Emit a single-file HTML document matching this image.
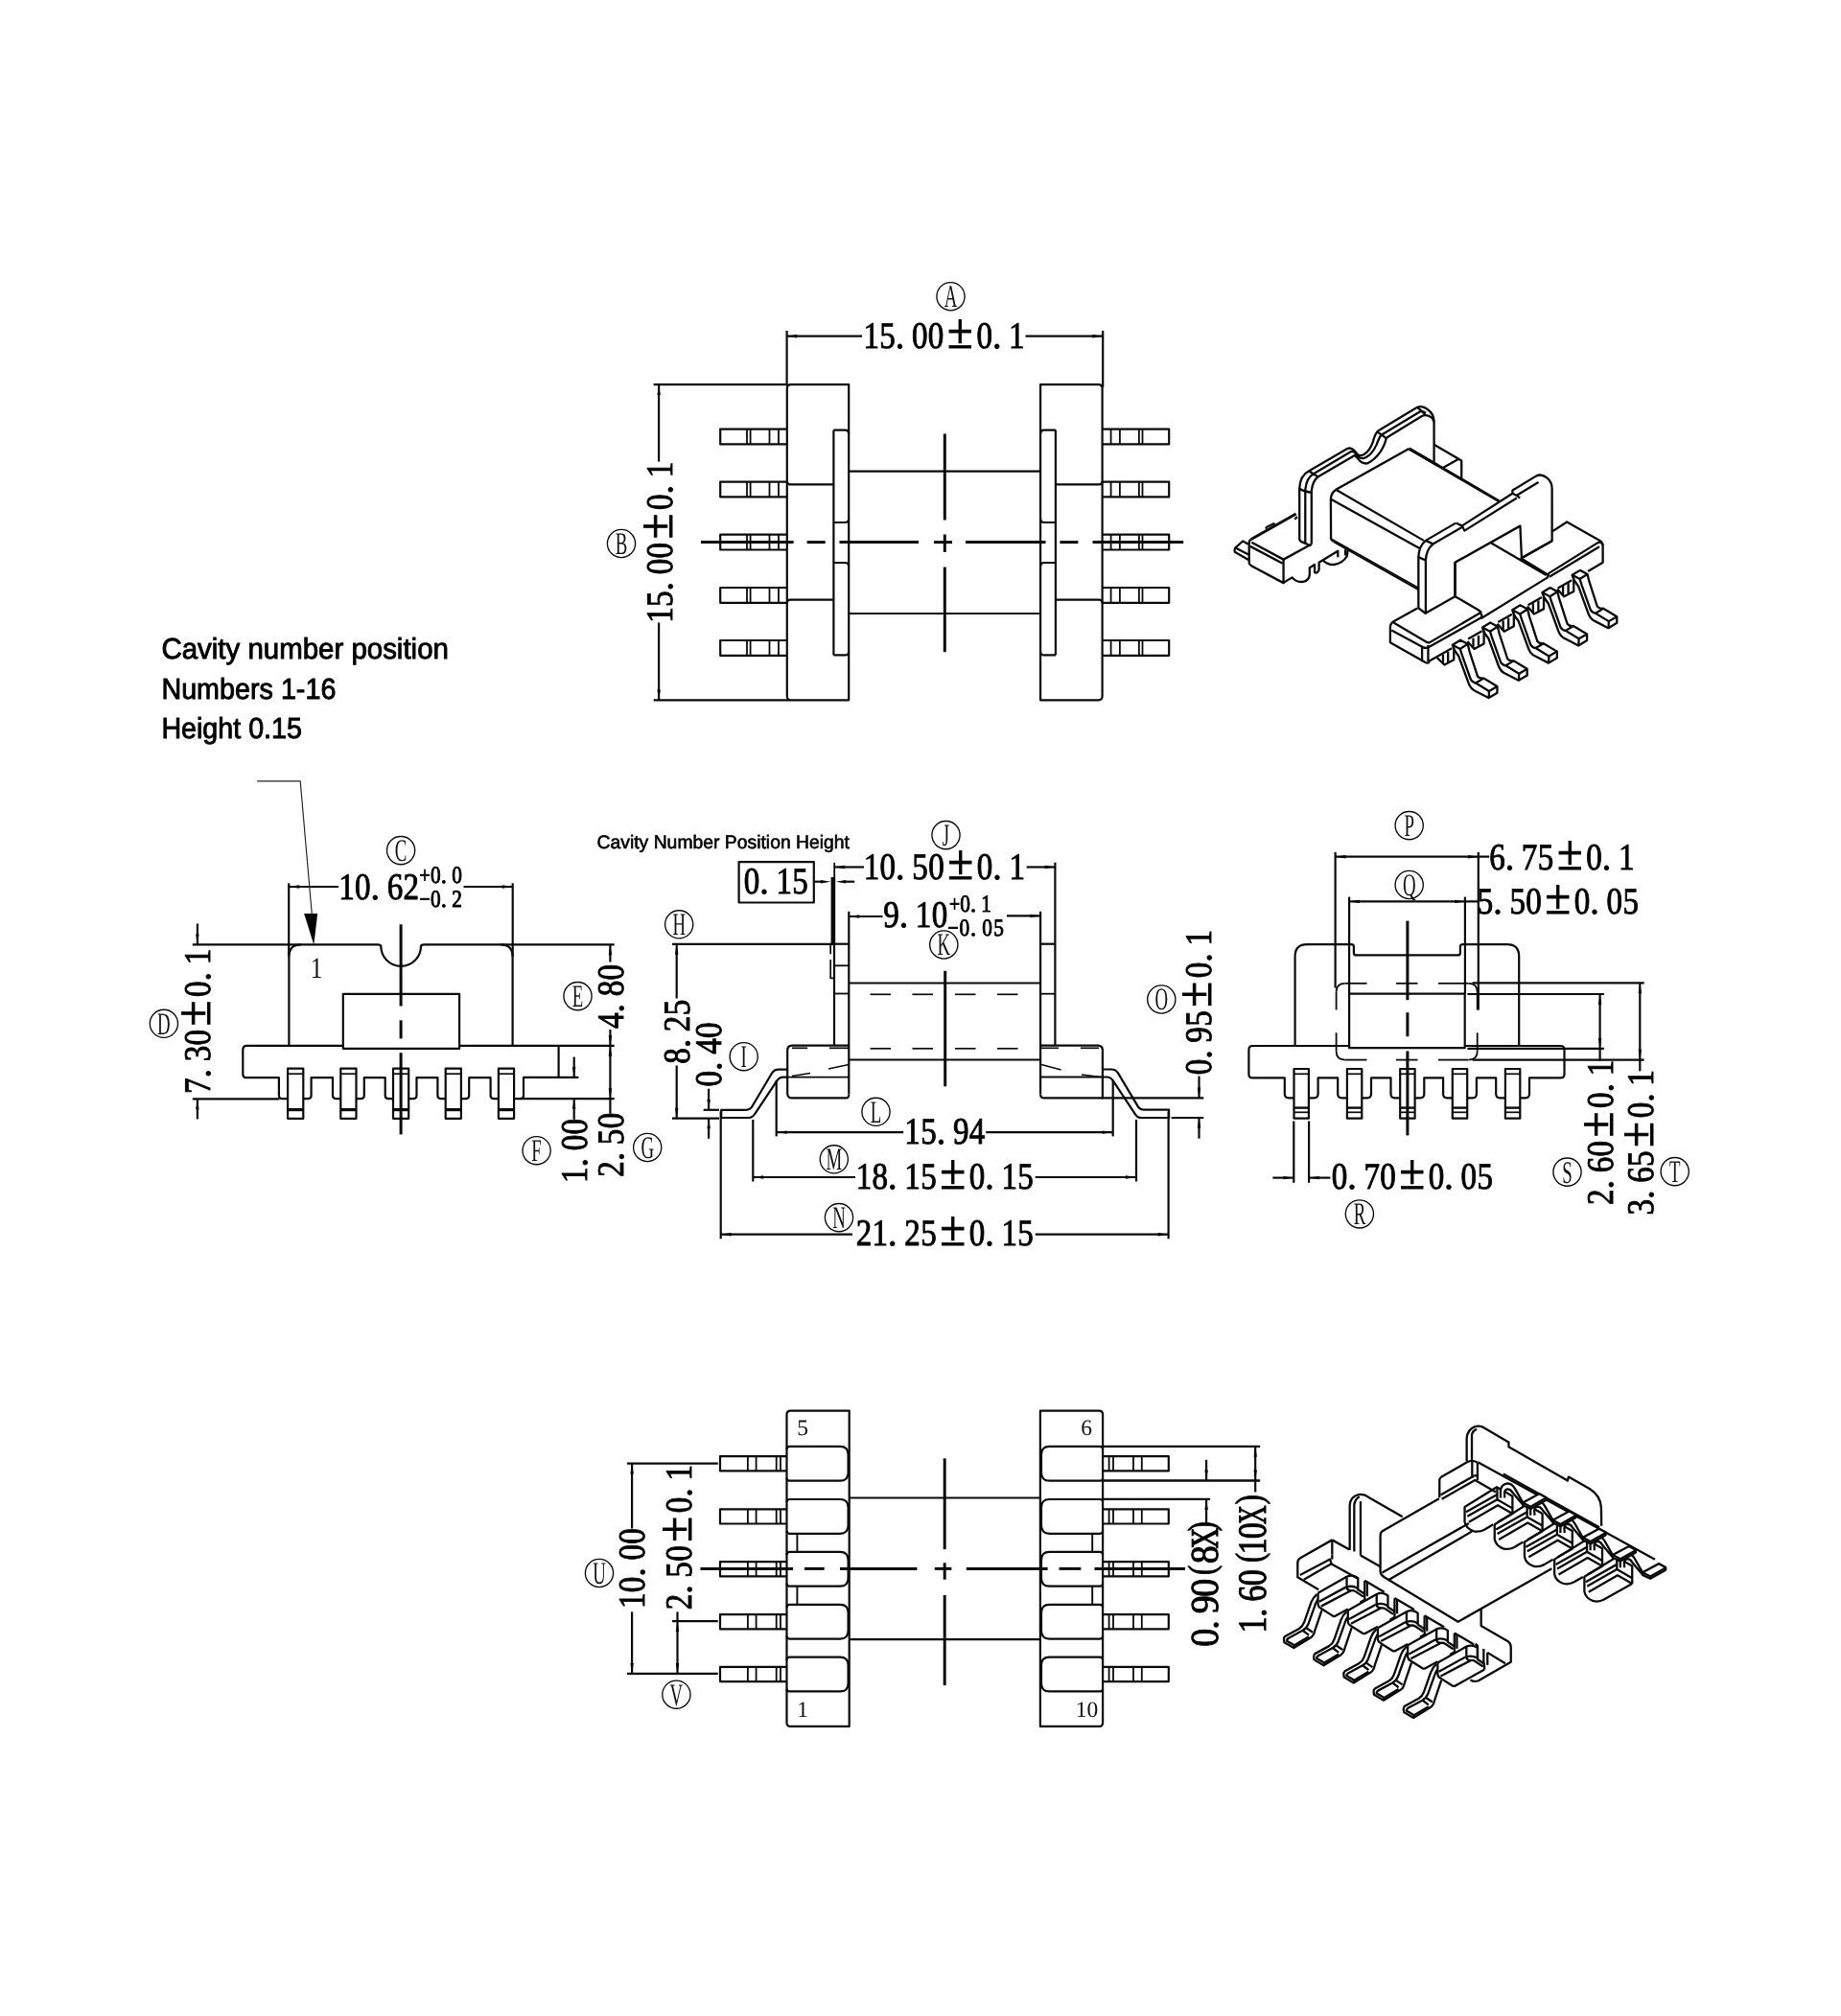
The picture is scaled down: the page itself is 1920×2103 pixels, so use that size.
<!DOCTYPE html>
<html><head><meta charset="utf-8"><title>Bobbin drawing</title>
<style>
html,body{margin:0;padding:0;background:#fff;}
body{width:1920px;height:2103px;overflow:hidden;}
svg{display:block;filter:grayscale(1);}
svg text{text-rendering:geometricPrecision;}
svg path,svg circle,svg rect,svg polyline{fill:none;stroke:#0a0a0a;stroke-linecap:butt;stroke-linejoin:round;}
.s{font-family:"Liberation Serif",serif;fill:#111;stroke:none;}
.d text{font-family:"Liberation Serif",serif;fill:#000;stroke:#000;stroke-width:0.9px;}
.n{font-family:"Liberation Serif",serif;fill:#111;stroke:none;}
.t{font-family:"Liberation Sans",sans-serif;fill:#000;stroke:#000;}
</style></head>
<body>
<svg width="1920" height="2103" viewBox="0 0 1920 2103">
<rect x="0" y="0" width="1920" height="2103" style="fill:#fff;stroke:none"/>
<path d="M885.2 401.2L824.8 401.2Q820.8 401.2 820.8 405.2L820.8 726.3Q820.8 730.3 824.8 730.3L885.2 730.3Z" stroke-width="2.2"/>
<path d="M1085.1 401.2L1145.6 401.2Q1149.6 401.2 1149.6 405.2L1149.6 726.3Q1149.6 730.3 1145.6 730.3L1085.1 730.3Z" stroke-width="2.2"/>
<path d="M820.8 501.9Q820.8 505.4 824.3 505.4L869.4 505.4" stroke-width="2.2"/>
<path d="M1149.6 501.9Q1149.6 505.4 1146.1 505.4L1100.9 505.4" stroke-width="2.2"/>
<path d="M820.8 629.1Q820.8 625.6 824.3 625.6L869.4 625.6" stroke-width="2.2"/>
<path d="M1149.6 629.1Q1149.6 625.6 1146.1 625.6L1100.9 625.6" stroke-width="2.2"/>
<path d="M869.4 448.6L869.4 683.4" stroke-width="2.2"/>
<path d="M1100.9 448.6L1100.9 683.4" stroke-width="2.2"/>
<path d="M869.4 448.6L881.2 448.6Q885.2 448.6 885.2 452.6" stroke-width="2.2"/>
<path d="M1100.9 448.6L1089.1 448.6Q1085.1 448.6 1085.1 452.6" stroke-width="2.2"/>
<path d="M869.4 545L881.2 545Q885.2 545 885.2 541" stroke-width="2.2"/>
<path d="M1100.9 545L1089.1 545Q1085.1 545 1085.1 541" stroke-width="2.2"/>
<path d="M869.4 587L881.2 587Q885.2 587 885.2 591" stroke-width="2.2"/>
<path d="M1100.9 587L1089.1 587Q1085.1 587 1085.1 591" stroke-width="2.2"/>
<path d="M869.4 683.4L881.2 683.4Q885.2 683.4 885.2 679.4" stroke-width="2.2"/>
<path d="M1100.9 683.4L1089.1 683.4Q1085.1 683.4 1085.1 679.4" stroke-width="2.2"/>
<path d="M885.2 491.7L1085.1 491.7" stroke-width="2.2"/>
<path d="M885.2 640L1085.1 640" stroke-width="2.2"/>
<path d="M820.8 447.6L751.2 447.6L751.2 463.4L820.8 463.4" stroke-width="2.2"/>
<path d="M779 447.6L779 463.4" stroke-width="1.8"/>
<path d="M782.6 447.6L782.6 463.4" stroke-width="1.8"/>
<path d="M802.5 447.6L802.5 463.4" stroke-width="1.8"/>
<path d="M812 447.6L812 463.4" stroke-width="1.8"/>
<path d="M1149.6 447.6L1219.2 447.6L1219.2 463.4L1149.6 463.4" stroke-width="2.2"/>
<path d="M1158.6 447.6L1158.6 463.4" stroke-width="1.8"/>
<path d="M1167.9 447.6L1167.9 463.4" stroke-width="1.8"/>
<path d="M1187.9 447.6L1187.9 463.4" stroke-width="1.8"/>
<path d="M1191.5 447.6L1191.5 463.4" stroke-width="1.8"/>
<path d="M820.8 502.6L751.2 502.6L751.2 518.4L820.8 518.4" stroke-width="2.2"/>
<path d="M779 502.6L779 518.4" stroke-width="1.8"/>
<path d="M782.6 502.6L782.6 518.4" stroke-width="1.8"/>
<path d="M802.5 502.6L802.5 518.4" stroke-width="1.8"/>
<path d="M812 502.6L812 518.4" stroke-width="1.8"/>
<path d="M1149.6 502.6L1219.2 502.6L1219.2 518.4L1149.6 518.4" stroke-width="2.2"/>
<path d="M1158.6 502.6L1158.6 518.4" stroke-width="1.8"/>
<path d="M1167.9 502.6L1167.9 518.4" stroke-width="1.8"/>
<path d="M1187.9 502.6L1187.9 518.4" stroke-width="1.8"/>
<path d="M1191.5 502.6L1191.5 518.4" stroke-width="1.8"/>
<path d="M820.8 557.7L751.2 557.7L751.2 573.5L820.8 573.5" stroke-width="2.2"/>
<path d="M779 557.7L779 573.5" stroke-width="1.8"/>
<path d="M782.6 557.7L782.6 573.5" stroke-width="1.8"/>
<path d="M802.5 557.7L802.5 573.5" stroke-width="1.8"/>
<path d="M812 557.7L812 573.5" stroke-width="1.8"/>
<path d="M1149.6 557.7L1219.2 557.7L1219.2 573.5L1149.6 573.5" stroke-width="2.2"/>
<path d="M1158.6 557.7L1158.6 573.5" stroke-width="1.8"/>
<path d="M1167.9 557.7L1167.9 573.5" stroke-width="1.8"/>
<path d="M1187.9 557.7L1187.9 573.5" stroke-width="1.8"/>
<path d="M1191.5 557.7L1191.5 573.5" stroke-width="1.8"/>
<path d="M820.8 613L751.2 613L751.2 628.8L820.8 628.8" stroke-width="2.2"/>
<path d="M779 613L779 628.8" stroke-width="1.8"/>
<path d="M782.6 613L782.6 628.8" stroke-width="1.8"/>
<path d="M802.5 613L802.5 628.8" stroke-width="1.8"/>
<path d="M812 613L812 628.8" stroke-width="1.8"/>
<path d="M1149.6 613L1219.2 613L1219.2 628.8L1149.6 628.8" stroke-width="2.2"/>
<path d="M1158.6 613L1158.6 628.8" stroke-width="1.8"/>
<path d="M1167.9 613L1167.9 628.8" stroke-width="1.8"/>
<path d="M1187.9 613L1187.9 628.8" stroke-width="1.8"/>
<path d="M1191.5 613L1191.5 628.8" stroke-width="1.8"/>
<path d="M820.8 668L751.2 668L751.2 683.8L820.8 683.8" stroke-width="2.2"/>
<path d="M779 668L779 683.8" stroke-width="1.8"/>
<path d="M782.6 668L782.6 683.8" stroke-width="1.8"/>
<path d="M802.5 668L802.5 683.8" stroke-width="1.8"/>
<path d="M812 668L812 683.8" stroke-width="1.8"/>
<path d="M1149.6 668L1219.2 668L1219.2 683.8L1149.6 683.8" stroke-width="2.2"/>
<path d="M1158.6 668L1158.6 683.8" stroke-width="1.8"/>
<path d="M1167.9 668L1167.9 683.8" stroke-width="1.8"/>
<path d="M1187.9 668L1187.9 683.8" stroke-width="1.8"/>
<path d="M1191.5 668L1191.5 683.8" stroke-width="1.8"/>
<path d="M731 565.6L827.6 565.6" stroke-width="3"/>
<path d="M841.6 565.6L860.7 565.6" stroke-width="3"/>
<path d="M875.5 565.6L958 565.6" stroke-width="3"/>
<path d="M974 565.6L993 565.6" stroke-width="3"/>
<path d="M1007 565.6L1090.5 565.6" stroke-width="3"/>
<path d="M1105.4 565.6L1124.4 565.6" stroke-width="3"/>
<path d="M1139.5 565.6L1234.2 565.6" stroke-width="3"/>
<path d="M985.3 452.5L985.3 542.5" stroke-width="3"/>
<path d="M985.3 557.5L985.3 575.9" stroke-width="3"/>
<path d="M985.3 591.5L985.3 680.2" stroke-width="3"/>
<path d="M820.6 345L820.6 401.2" stroke-width="2.2"/>
<path d="M1150.2 345L1150.2 404" stroke-width="2.2"/>
<path d="M820.6 350.7L899 350.7" stroke-width="2.2"/>
<path d="M1069.5 350.7L1150.2 350.7" stroke-width="2.2"/>
<polygon points="820.6,350.7 831.1,349 831.1,352.4" fill="#000" stroke="none"/>
<polygon points="1149.8,350.7 1139.3,349 1139.3,352.4" fill="#000" stroke="none"/>
<g class="d" font-size="38" text-anchor="middle" transform="translate(900.3 363.4) rotate(0)"><text transform="translate(8.43 0) scale(0.87 1.03)">1</text><text transform="translate(25.28 0) scale(0.87 1.03)">5</text><text transform="translate(38.25 0) scale(1.0 1.0)">.</text><text transform="translate(58.98 0) scale(0.87 1.03)">0</text><text transform="translate(75.83 0) scale(0.87 1.03)">0</text><text font-size="49.4" transform="translate(101.1 0) scale(0.98 1.06)">±</text><text transform="translate(126.38 0) scale(0.87 1.03)">0</text><text transform="translate(139.35 0) scale(1.0 1.0)">.</text><text transform="translate(160.08 0) scale(0.87 1.03)">1</text></g>
<circle cx="991.5" cy="309.2" r="14.6" stroke-width="1.35"/>
<text transform="translate(991.5 309.2) rotate(0) scale(0.57 1)" x="0" y="10.9" text-anchor="middle" font-size="33" class="s">A</text>
<path d="M681.7 401.2L821 401.2" stroke-width="2.2"/>
<path d="M681.7 730.3L824 730.3" stroke-width="2.2"/>
<path d="M687.1 401.2L687.1 481.6" stroke-width="2.2"/>
<path d="M687.1 649.5L687.1 730.3" stroke-width="2.2"/>
<polygon points="687.1,401.6 685.4,412.1 688.8,412.1" fill="#000" stroke="none"/>
<polygon points="687.1,729.9 685.4,719.4 688.8,719.4" fill="#000" stroke="none"/>
<g class="d" font-size="38" text-anchor="middle" transform="translate(700.6 650) rotate(-90)"><text transform="translate(8.43 0) scale(0.87 1.03)">1</text><text transform="translate(25.28 0) scale(0.87 1.03)">5</text><text transform="translate(38.25 0) scale(1.0 1.0)">.</text><text transform="translate(58.98 0) scale(0.87 1.03)">0</text><text transform="translate(75.83 0) scale(0.87 1.03)">0</text><text font-size="49.4" transform="translate(101.1 0) scale(0.98 1.06)">±</text><text transform="translate(126.38 0) scale(0.87 1.03)">0</text><text transform="translate(139.35 0) scale(1.0 1.0)">.</text><text transform="translate(160.08 0) scale(0.87 1.03)">1</text></g>
<circle cx="648" cy="567" r="14.6" stroke-width="1.35"/>
<text transform="translate(648 567) rotate(0) scale(0.57 1)" x="0" y="10.9" text-anchor="middle" font-size="33" class="s">B</text>
<g class="t" font-size="30.5" stroke-width="0.9"><text x="168.4" y="686.7" textLength="299.5" lengthAdjust="spacingAndGlyphs">Cavity number position</text><text x="168.4" y="729.1" textLength="182" lengthAdjust="spacingAndGlyphs">Numbers 1-16</text><text x="168.4" y="770.4" textLength="146.5" lengthAdjust="spacingAndGlyphs">Height 0.15</text></g>
<g class="t" font-size="19.5" stroke-width="0.6"><text x="622.5" y="885.2" textLength="263.5" lengthAdjust="spacingAndGlyphs">Cavity Number Position Height</text></g>
<path d="M268.2 814.9L313.2 814.9L325.3 954" stroke-width="1.15" style="stroke:#222"/>
<polygon points="327.3,985.5 317.1,952.9 331.2,952.9" fill="#000" stroke="none"/>
<path d="M301.4 1090.9L301.4 997.8Q301.4 985.3 313.9 985.3L394 985.3Q397 985.3 397.3 987A20.85 20.85 0 0 0 439 987Q439.2 985.3 442.2 985.3L522.1 985.3Q534.6 985.3 534.6 997.8L534.6 1090.9" stroke-width="2.2"/>
<path d="M200.8 985.3L313.9 985.3" stroke-width="2.2"/>
<path d="M522.1 985.3L640.7 985.3" stroke-width="2.2"/>
<path d="M301.2 921.3L301.2 997.8" stroke-width="2.2"/>
<path d="M534.7 921.3L534.7 997.8" stroke-width="2.2"/>
<path d="M357.8 1090.9L257.3 1090.9Q253.3 1090.9 253.3 1094.9L253.3 1120.2Q253.3 1124.2 257.3 1124.2L290.9 1124.2L290.9 1142.4Q290.9 1146.2 294.6 1146.2L300.1 1146.2" stroke-width="2.2"/>
<path d="M479.1 1090.9L640.7 1090.9" stroke-width="2.2"/>
<rect x="357.8" y="1036.8" width="121.3" height="57" rx="0" stroke-width="2.2"/>
<path d="M582.6 1090.9L582.6 1124.2" stroke-width="2.2"/>
<path d="M300.1 1114.7L300.1 1166.8L316.3 1166.8L316.3 1114.7Z" stroke-width="2.2"/>
<path d="M300.1 1120.2L316.3 1120.2" stroke-width="1.7"/>
<path d="M300.1 1157.6L316.3 1157.6" stroke-width="3.2"/>
<path d="M316.3 1146.2L321 1146.2Q324.6 1146.2 324.6 1142.6L324.6 1124.2L347 1124.2L347 1142.6Q347 1146.2 350.6 1146.2L355.3 1146.2" stroke-width="2.2"/>
<path d="M355.3 1114.7L355.3 1166.8L371.5 1166.8L371.5 1114.7Z" stroke-width="2.2"/>
<path d="M355.3 1120.2L371.5 1120.2" stroke-width="1.7"/>
<path d="M355.3 1157.6L371.5 1157.6" stroke-width="3.2"/>
<path d="M371.5 1146.2L376.2 1146.2Q379.8 1146.2 379.8 1142.6L379.8 1124.2L401.7 1124.2L401.7 1142.6Q401.7 1146.2 405.3 1146.2L410 1146.2" stroke-width="2.2"/>
<path d="M410 1114.7L410 1166.8L426.2 1166.8L426.2 1114.7Z" stroke-width="2.2"/>
<path d="M410 1120.2L426.2 1120.2" stroke-width="1.7"/>
<path d="M410 1157.6L426.2 1157.6" stroke-width="3.2"/>
<path d="M426.2 1146.2L430.9 1146.2Q434.5 1146.2 434.5 1142.6L434.5 1124.2L456.4 1124.2L456.4 1142.6Q456.4 1146.2 460 1146.2L464.7 1146.2" stroke-width="2.2"/>
<path d="M464.7 1114.7L464.7 1166.8L480.9 1166.8L480.9 1114.7Z" stroke-width="2.2"/>
<path d="M464.7 1120.2L480.9 1120.2" stroke-width="1.7"/>
<path d="M464.7 1157.6L480.9 1157.6" stroke-width="3.2"/>
<path d="M480.9 1146.2L485.6 1146.2Q489.2 1146.2 489.2 1142.6L489.2 1124.2L511.6 1124.2L511.6 1142.6Q511.6 1146.2 515.2 1146.2L519.9 1146.2" stroke-width="2.2"/>
<path d="M519.9 1114.7L519.9 1166.8L536.1 1166.8L536.1 1114.7Z" stroke-width="2.2"/>
<path d="M519.9 1120.2L536.1 1120.2" stroke-width="1.7"/>
<path d="M519.9 1157.6L536.1 1157.6" stroke-width="3.2"/>
<path d="M536.1 1146.2L542.4 1146.2Q546 1146.2 546 1142.6L546 1123.8L603.4 1123.8" stroke-width="2.2"/>
<path d="M418.1 964.3L418.1 1049.5" stroke-width="3"/>
<path d="M418.1 1064.3L418.1 1083.4" stroke-width="3"/>
<path d="M418.1 1098.2L418.1 1183.4" stroke-width="3"/>
<text class="n" x="330.2" y="1020.2" font-size="31" text-anchor="middle" transform="translate(330.2 0) scale(0.82 1) translate(-330.2 0)">1</text>
<path d="M301.2 925L353 925" stroke-width="2.2"/>
<path d="M483.5 925L534.7 925" stroke-width="2.2"/>
<polygon points="301.6,925 312.1,923.3 312.1,926.7" fill="#000" stroke="none"/>
<polygon points="534.3,925 523.8,923.3 523.8,926.7" fill="#000" stroke="none"/>
<g class="d" font-size="38" text-anchor="middle" transform="translate(353 938.1) rotate(0)"><text transform="translate(8.43 0) scale(0.87 1.03)">1</text><text transform="translate(25.28 0) scale(0.87 1.03)">0</text><text transform="translate(38.25 0) scale(1.0 1.0)">.</text><text transform="translate(58.98 0) scale(0.87 1.03)">6</text><text transform="translate(75.83 0) scale(0.87 1.03)">2</text></g>
<g class="d" font-size="24.5" text-anchor="middle" transform="translate(437.5 920.6) rotate(0)"><text transform="translate(5.6 0) scale(0.8 1.0)">+</text><text transform="translate(16.8 0) scale(0.87 1.03)">0</text><text transform="translate(25.42 0) scale(1.0 1.0)">.</text><text transform="translate(39.2 0) scale(0.87 1.03)">0</text></g>
<g class="d" font-size="24.5" text-anchor="middle" transform="translate(437.5 945.6) rotate(0)"><text transform="translate(5.6 0) scale(0.8 1.0)">−</text><text transform="translate(16.8 0) scale(0.87 1.03)">0</text><text transform="translate(25.42 0) scale(1.0 1.0)">.</text><text transform="translate(39.2 0) scale(0.87 1.03)">2</text></g>
<circle cx="418.1" cy="887.1" r="14.6" stroke-width="1.35"/>
<text transform="translate(418.1 887.1) rotate(0) scale(0.57 1)" x="0" y="10.9" text-anchor="middle" font-size="33" class="s">C</text>
<path d="M205.9 963.5L205.9 985.3" stroke-width="2.2"/>
<polygon points="205.9,984.9 204.2,974.4 207.6,974.4" fill="#000" stroke="none"/>
<path d="M200.8 1146.3L291.2 1146.3" stroke-width="2.2"/>
<path d="M205.9 1146.3L205.9 1167.4" stroke-width="2.2"/>
<polygon points="205.9,1146.7 204.2,1157.2 207.6,1157.2" fill="#000" stroke="none"/>
<g class="d" font-size="38" text-anchor="middle" transform="translate(218.8 1141.2) rotate(-90)"><text transform="translate(8.43 0) scale(0.87 1.03)">7</text><text transform="translate(21.4 0) scale(1.0 1.0)">.</text><text transform="translate(42.12 0) scale(0.87 1.03)">3</text><text transform="translate(58.98 0) scale(0.87 1.03)">0</text><text font-size="49.4" transform="translate(84.25 0) scale(0.98 1.06)">±</text><text transform="translate(109.53 0) scale(0.87 1.03)">0</text><text transform="translate(122.5 0) scale(1.0 1.0)">.</text><text transform="translate(143.23 0) scale(0.87 1.03)">1</text></g>
<circle cx="170.9" cy="1067.8" r="14.6" stroke-width="1.35"/>
<text transform="translate(170.9 1067.8) rotate(0) scale(0.57 1)" x="0" y="10.9" text-anchor="middle" font-size="33" class="s">D</text>
<path d="M542.5 1146.2L640.7 1146.2" stroke-width="2.2"/>
<path d="M636.4 985.3L636.4 1003.5" stroke-width="2.2"/>
<polygon points="636.4,985.7 634.7,996.2 638.1,996.2" fill="#000" stroke="none"/>
<path d="M636.4 1074L636.4 1161.6" stroke-width="2.2"/>
<polygon points="636.4,1090.5 634.7,1080 638.1,1080" fill="#000" stroke="none"/>
<polygon points="636.4,1091.3 634.7,1101.8 638.1,1101.8" fill="#000" stroke="none"/>
<polygon points="636.4,1145.8 634.7,1135.3 638.1,1135.3" fill="#000" stroke="none"/>
<g class="d" font-size="38" text-anchor="middle" transform="translate(650.3 1073.2) rotate(-90)"><text transform="translate(8.43 0) scale(0.87 1.03)">4</text><text transform="translate(21.4 0) scale(1.0 1.0)">.</text><text transform="translate(42.12 0) scale(0.87 1.03)">8</text><text transform="translate(58.98 0) scale(0.87 1.03)">0</text></g>
<g class="d" font-size="38" text-anchor="middle" transform="translate(650.3 1228) rotate(-90)"><text transform="translate(8.43 0) scale(0.87 1.03)">2</text><text transform="translate(21.4 0) scale(1.0 1.0)">.</text><text transform="translate(42.12 0) scale(0.87 1.03)">5</text><text transform="translate(58.98 0) scale(0.87 1.03)">0</text></g>
<circle cx="602.5" cy="1039.1" r="14.6" stroke-width="1.35"/>
<text transform="translate(602.5 1039.1) rotate(0) scale(0.57 1)" x="0" y="10.9" text-anchor="middle" font-size="33" class="s">E</text>
<circle cx="675.2" cy="1197" r="14.6" stroke-width="1.35"/>
<text transform="translate(675.2 1197) rotate(0) scale(0.57 1)" x="0" y="10.9" text-anchor="middle" font-size="33" class="s">G</text>
<path d="M598.7 1102.5L598.7 1123.8" stroke-width="2.2"/>
<polygon points="598.7,1123.4 597,1112.9 600.4,1112.9" fill="#000" stroke="none"/>
<path d="M598.7 1146.2L598.7 1167.7" stroke-width="2.2"/>
<polygon points="598.7,1146.6 597,1157.1 600.4,1157.1" fill="#000" stroke="none"/>
<g class="d" font-size="38" text-anchor="middle" transform="translate(612.1 1234.2) rotate(-90)"><text transform="translate(8.43 0) scale(0.87 1.03)">1</text><text transform="translate(21.4 0) scale(1.0 1.0)">.</text><text transform="translate(42.12 0) scale(0.87 1.03)">0</text><text transform="translate(58.98 0) scale(0.87 1.03)">0</text></g>
<circle cx="559.6" cy="1200.2" r="14.6" stroke-width="1.35"/>
<text transform="translate(559.6 1200.2) rotate(0) scale(0.57 1)" x="0" y="10.9" text-anchor="middle" font-size="33" class="s">F</text>
<path d="M870 984.7L870 1090.6" stroke-width="2.2"/>
<path d="M885.3 950.8L885.3 1141.4" stroke-width="2.2"/>
<path d="M870 984.7L885.3 984.7" stroke-width="2.2"/>
<path d="M870 1007.3L885.3 1007.3" stroke-width="1.8"/>
<path d="M870 1036.5L885.3 1036.5" stroke-width="1.8"/>
<path d="M1100.4 899.8L1100.4 1090.6" stroke-width="2.2"/>
<path d="M1085.1 950.8L1085.1 1141.4" stroke-width="2.2"/>
<path d="M1085.1 984.7L1100.4 984.7" stroke-width="2.2"/>
<path d="M1085.1 1036.7L1100.4 1036.7" stroke-width="1.8"/>
<path d="M885.3 1025.5L1085.1 1025.5" stroke-width="2.2"/>
<path d="M885.3 1105.5L1085.1 1105.5" stroke-width="2.2"/>
<path d="M907.5 1037.3L929 1037.3" stroke-width="1.7"/>
<path d="M951.5 1037.3L973 1037.3" stroke-width="1.7"/>
<path d="M996 1037.3L1017.5 1037.3" stroke-width="1.7"/>
<path d="M1040 1037.3L1061.5 1037.3" stroke-width="1.7"/>
<path d="M907.5 1093.8L929 1093.8" stroke-width="1.7"/>
<path d="M951.5 1093.8L973 1093.8" stroke-width="1.7"/>
<path d="M996 1093.8L1017.5 1093.8" stroke-width="1.7"/>
<path d="M1040 1093.8L1061.5 1093.8" stroke-width="1.7"/>
<path d="M985.7 1012.8L985.7 1133.3" stroke-width="3"/>
<path d="M885.3 1090.6L826.2 1090.6Q821.2 1090.6 821.2 1095.6L821.2 1140.4Q821.2 1145.4 826.2 1145.4L882.3 1145.4Q885.3 1145.4 885.3 1141.4" stroke-width="2.2"/>
<path d="M1085.1 1090.6L1144.9 1090.6Q1149.9 1090.6 1149.9 1095.6L1149.9 1144.9L1149.9 1145.4L1089.1 1145.4Q1085.1 1145.4 1085.1 1141.4" stroke-width="2.2"/>
<path d="M821.2 1123.6L885.3 1123.6" stroke-width="1.8"/>
<path d="M1085.1 1123.5L1149.9 1123.5" stroke-width="1.8"/>
<path d="M826 1093.3L842 1093.3" stroke-width="1.7"/>
<path d="M865 1093.3L885.3 1093.3" stroke-width="1.7"/>
<path d="M1085.1 1093.3L1104 1093.3" stroke-width="1.6"/>
<path d="M1127 1093.3L1146 1093.3" stroke-width="1.7"/>
<path d="M826 1122.5L845 1119.5" stroke-width="1.6"/>
<path d="M864 1115L885.3 1110.5" stroke-width="1.6"/>
<path d="M1086.1 1110.5L1106.5 1116" stroke-width="1.6"/>
<path d="M1128 1121L1148 1123.5" stroke-width="1.6"/>
<path d="M821.2 1115.6L812 1115.6Q807.5 1115.6 805 1119.5L784.5 1154Q782.3 1157.8 778 1157.8L752.2 1157.8L752.2 1166L780.5 1166Q784.8 1166 787 1162.3L810.3 1127.4Q812.8 1123.6 817 1123.6L821.2 1123.6" stroke-width="2.2"/>
<path d="M1149.9 1115.5L1159 1115.5Q1163.5 1115.5 1166 1119.4L1186.6 1153.9Q1188.8 1157.7 1193.2 1157.7L1219.1 1157.7L1219.1 1166L1190.6 1166Q1186.3 1166 1184 1162.3L1160.8 1127.3Q1158.3 1123.5 1154 1123.5L1149.9 1123.5" stroke-width="2.2"/>
<path d="M870 984.7L866.2 984.7L866.2 995.2M866.2 1001L866.2 1020.4L870 1020.4" stroke-width="1.7"/>
<path d="M868.9 915L868.9 984.7" stroke-width="4.6"/>
<rect x="770.6" y="899.1" width="78.2" height="42.4" rx="0" stroke-width="2.2"/>
<g class="d" font-size="38" text-anchor="middle" transform="translate(775.6 931.7) rotate(0)"><text transform="translate(8.43 0) scale(0.87 1.03)">0</text><text transform="translate(21.4 0) scale(1.0 1.0)">.</text><text transform="translate(42.12 0) scale(0.87 1.03)">1</text><text transform="translate(58.98 0) scale(0.87 1.03)">5</text></g>
<path d="M848.8 919.7L857 919.7" stroke-width="2.2"/>
<polygon points="866.4,919.7 855.9,918 855.9,921.4" fill="#000" stroke="none"/>
<path d="M881 919.7L891.2 919.7" stroke-width="2.2"/>
<polygon points="871.6,919.7 882.1,918 882.1,921.4" fill="#000" stroke="none"/>
<path d="M870.2 899.8L870.2 915" stroke-width="1.8"/>
<path d="M870.2 904.5L901 904.5" stroke-width="2.2"/>
<polygon points="870.6,904.5 881.1,902.8 881.1,906.2" fill="#000" stroke="none"/>
<path d="M1070.6 904.5L1100.4 904.5" stroke-width="2.2"/>
<polygon points="1100.1,904.5 1089.6,902.8 1089.6,906.2" fill="#000" stroke="none"/>
<g class="d" font-size="38" text-anchor="middle" transform="translate(900.6 916.6) rotate(0)"><text transform="translate(8.43 0) scale(0.87 1.03)">1</text><text transform="translate(25.28 0) scale(0.87 1.03)">0</text><text transform="translate(38.25 0) scale(1.0 1.0)">.</text><text transform="translate(58.98 0) scale(0.87 1.03)">5</text><text transform="translate(75.83 0) scale(0.87 1.03)">0</text><text font-size="49.4" transform="translate(101.1 0) scale(0.98 1.06)">±</text><text transform="translate(126.38 0) scale(0.87 1.03)">0</text><text transform="translate(139.35 0) scale(1.0 1.0)">.</text><text transform="translate(160.08 0) scale(0.87 1.03)">1</text></g>
<circle cx="986.5" cy="871.1" r="14.6" stroke-width="1.35"/>
<text transform="translate(986.5 871.1) rotate(0) scale(0.57 1)" x="0" y="10.9" text-anchor="middle" font-size="33" class="s">J</text>
<path d="M885.3 956L920.5 956" stroke-width="2.2"/>
<polygon points="885.7,956 896.2,954.3 896.2,957.7" fill="#000" stroke="none"/>
<path d="M1050 955.4L1085.1 955.4" stroke-width="2.2"/>
<polygon points="1084.8,955.4 1074.3,953.7 1074.3,957.1" fill="#000" stroke="none"/>
<g class="d" font-size="38" text-anchor="middle" transform="translate(921 967.2) rotate(0)"><text transform="translate(8.43 0) scale(0.87 1.03)">9</text><text transform="translate(21.4 0) scale(1.0 1.0)">.</text><text transform="translate(42.12 0) scale(0.87 1.03)">1</text><text transform="translate(58.98 0) scale(0.87 1.03)">0</text></g>
<g class="d" font-size="24.5" text-anchor="middle" transform="translate(990 950.9) rotate(0)"><text transform="translate(5.5 0) scale(0.8 1.0)">+</text><text transform="translate(16.5 0) scale(0.87 1.03)">0</text><text transform="translate(24.97 0) scale(1.0 1.0)">.</text><text transform="translate(38.5 0) scale(0.87 1.03)">1</text></g>
<g class="d" font-size="24.5" text-anchor="middle" transform="translate(988 975.9) rotate(0)"><text transform="translate(5.95 0) scale(0.8 1.0)">−</text><text transform="translate(17.85 0) scale(0.87 1.03)">0</text><text transform="translate(27.01 0) scale(1.0 1.0)">.</text><text transform="translate(41.65 0) scale(0.87 1.03)">0</text><text transform="translate(53.55 0) scale(0.87 1.03)">5</text></g>
<circle cx="984.3" cy="985.5" r="14.6" stroke-width="1.35"/>
<text transform="translate(984.3 985.5) rotate(0) scale(0.57 1)" x="0" y="10.9" text-anchor="middle" font-size="33" class="s">K</text>
<path d="M701 984.9L869.4 984.9" stroke-width="2.2"/>
<path d="M701 1166.6L750 1166.6" stroke-width="2.2"/>
<path d="M705.7 984.9L705.7 1041.5" stroke-width="2.2"/>
<path d="M705.7 1111.5L705.7 1166.6" stroke-width="2.2"/>
<polygon points="705.7,985.3 704,995.8 707.4,995.8" fill="#000" stroke="none"/>
<polygon points="705.7,1166.2 704,1155.7 707.4,1155.7" fill="#000" stroke="none"/>
<g class="d" font-size="38" text-anchor="middle" transform="translate(718.6 1110) rotate(-90)"><text transform="translate(8.43 0) scale(0.87 1.03)">8</text><text transform="translate(21.4 0) scale(1.0 1.0)">.</text><text transform="translate(42.12 0) scale(0.87 1.03)">2</text><text transform="translate(58.98 0) scale(0.87 1.03)">5</text></g>
<circle cx="708.2" cy="964.3" r="14.6" stroke-width="1.35"/>
<text transform="translate(708.2 964.3) rotate(0) scale(0.57 1)" x="0" y="10.9" text-anchor="middle" font-size="33" class="s">H</text>
<path d="M739.1 1135.7L739.1 1157.8" stroke-width="2.2"/>
<polygon points="739.1,1157.4 737.4,1146.9 740.8,1146.9" fill="#000" stroke="none"/>
<path d="M733.7 1157.8L750 1157.8" stroke-width="2.2"/>
<path d="M739.1 1166.4L739.1 1187.8" stroke-width="2.2"/>
<polygon points="739.1,1166.8 737.4,1177.3 740.8,1177.3" fill="#000" stroke="none"/>
<g class="d" font-size="38" text-anchor="middle" transform="translate(752 1133.6) rotate(-90)"><text transform="translate(8.43 0) scale(0.87 1.03)">0</text><text transform="translate(21.4 0) scale(1.0 1.0)">.</text><text transform="translate(42.12 0) scale(0.87 1.03)">4</text><text transform="translate(58.98 0) scale(0.87 1.03)">0</text></g>
<circle cx="775.7" cy="1102.2" r="14.6" stroke-width="1.35"/>
<text transform="translate(775.7 1102.2) rotate(0) scale(0.57 1)" x="0" y="10.9" text-anchor="middle" font-size="33" class="s">I</text>
<path d="M809.7 1126.8L809.7 1185.4" stroke-width="2.2"/>
<path d="M1160.7 1126.8L1160.7 1185.4" stroke-width="2.2"/>
<path d="M809.7 1181.1L942.2 1181.1" stroke-width="2.2"/>
<path d="M1028.2 1181.1L1160.7 1181.1" stroke-width="2.2"/>
<polygon points="810.1,1181.1 820.6,1179.4 820.6,1182.8" fill="#000" stroke="none"/>
<polygon points="1160.3,1181.1 1149.8,1179.4 1149.8,1182.8" fill="#000" stroke="none"/>
<g class="d" font-size="38" text-anchor="middle" transform="translate(943.2 1193) rotate(0)"><text transform="translate(8.43 0) scale(0.87 1.03)">1</text><text transform="translate(25.28 0) scale(0.87 1.03)">5</text><text transform="translate(38.25 0) scale(1.0 1.0)">.</text><text transform="translate(58.98 0) scale(0.87 1.03)">9</text><text transform="translate(75.83 0) scale(0.87 1.03)">4</text></g>
<circle cx="913.5" cy="1159.8" r="14.6" stroke-width="1.35"/>
<text transform="translate(913.5 1159.8) rotate(0) scale(0.57 1)" x="0" y="10.9" text-anchor="middle" font-size="33" class="s">L</text>
<path d="M785.3 1168L785.3 1232.5" stroke-width="2.2"/>
<path d="M1185 1168L1185 1232.5" stroke-width="2.2"/>
<path d="M785.3 1228L892 1228" stroke-width="2.2"/>
<path d="M1079.7 1228L1185 1228" stroke-width="2.2"/>
<polygon points="785.7,1228 796.2,1226.3 796.2,1229.7" fill="#000" stroke="none"/>
<polygon points="1184.6,1228 1174.1,1226.3 1174.1,1229.7" fill="#000" stroke="none"/>
<g class="d" font-size="38" text-anchor="middle" transform="translate(892.6 1240.2) rotate(0)"><text transform="translate(8.43 0) scale(0.87 1.03)">1</text><text transform="translate(25.28 0) scale(0.87 1.03)">8</text><text transform="translate(38.25 0) scale(1.0 1.0)">.</text><text transform="translate(58.98 0) scale(0.87 1.03)">1</text><text transform="translate(75.83 0) scale(0.87 1.03)">5</text><text font-size="49.4" transform="translate(101.1 0) scale(0.98 1.06)">±</text><text transform="translate(126.38 0) scale(0.87 1.03)">0</text><text transform="translate(139.35 0) scale(1.0 1.0)">.</text><text transform="translate(160.08 0) scale(0.87 1.03)">1</text><text transform="translate(176.93 0) scale(0.87 1.03)">5</text></g>
<circle cx="869.8" cy="1209.3" r="14.6" stroke-width="1.35"/>
<text transform="translate(869.8 1209.3) rotate(0) scale(0.57 1)" x="0" y="10.9" text-anchor="middle" font-size="33" class="s">M</text>
<path d="M751.7 1159.4L751.7 1292.3" stroke-width="2.2"/>
<path d="M1218.6 1159.4L1218.6 1292.3" stroke-width="2.2"/>
<path d="M751.7 1287.7L889 1287.7" stroke-width="2.2"/>
<path d="M1079.7 1287.7L1218.6 1287.7" stroke-width="2.2"/>
<polygon points="752.1,1287.7 762.6,1286 762.6,1289.4" fill="#000" stroke="none"/>
<polygon points="1218.2,1287.7 1207.7,1286 1207.7,1289.4" fill="#000" stroke="none"/>
<g class="d" font-size="38" text-anchor="middle" transform="translate(892.6 1298.8) rotate(0)"><text transform="translate(8.43 0) scale(0.87 1.03)">2</text><text transform="translate(25.28 0) scale(0.87 1.03)">1</text><text transform="translate(38.25 0) scale(1.0 1.0)">.</text><text transform="translate(58.98 0) scale(0.87 1.03)">2</text><text transform="translate(75.83 0) scale(0.87 1.03)">5</text><text font-size="49.4" transform="translate(101.1 0) scale(0.98 1.06)">±</text><text transform="translate(126.38 0) scale(0.87 1.03)">0</text><text transform="translate(139.35 0) scale(1.0 1.0)">.</text><text transform="translate(160.08 0) scale(0.87 1.03)">1</text><text transform="translate(176.93 0) scale(0.87 1.03)">5</text></g>
<circle cx="875" cy="1270.1" r="14.6" stroke-width="1.35"/>
<text transform="translate(875 1270.1) rotate(0) scale(0.57 1)" x="0" y="10.9" text-anchor="middle" font-size="33" class="s">N</text>
<path d="M1148.8 1145.3L1255.3 1145.3" stroke-width="2.2"/>
<path d="M1221.6 1166L1255.3 1166" stroke-width="2.2"/>
<path d="M1250.5 1122.5L1250.5 1145.3" stroke-width="2.2"/>
<polygon points="1250.5,1144.9 1248.8,1134.4 1252.2,1134.4" fill="#000" stroke="none"/>
<path d="M1250.5 1166L1250.5 1187.7" stroke-width="2.2"/>
<polygon points="1250.5,1166.4 1248.8,1176.9 1252.2,1176.9" fill="#000" stroke="none"/>
<g class="d" font-size="38" text-anchor="middle" transform="translate(1262.8 1121.5) rotate(-90)"><text transform="translate(8.43 0) scale(0.87 1.03)">0</text><text transform="translate(21.4 0) scale(1.0 1.0)">.</text><text transform="translate(42.12 0) scale(0.87 1.03)">9</text><text transform="translate(58.98 0) scale(0.87 1.03)">5</text><text font-size="49.4" transform="translate(84.25 0) scale(0.98 1.06)">±</text><text transform="translate(109.53 0) scale(0.87 1.03)">0</text><text transform="translate(122.5 0) scale(1.0 1.0)">.</text><text transform="translate(143.23 0) scale(0.87 1.03)">1</text></g>
<circle cx="1211.3" cy="1042.5" r="14.6" stroke-width="1.35"/>
<text transform="translate(1211.3 1042.5) rotate(0) scale(0.57 1)" x="0" y="10.9" text-anchor="middle" font-size="33" class="s">O</text>
<path d="M1350.6 1091L1350.6 997.6Q1350.6 985.1 1363.1 985.1L1409.4 985.1Q1411.9 985.1 1411.9 987.6L1411.9 993.9Q1411.9 996.4 1414.4 996.4L1520.4 996.4Q1522.9 996.4 1522.9 993.9L1522.9 987.6Q1522.9 985.1 1525.4 985.1L1571.7 985.1Q1584.2 985.1 1584.2 997.6L1584.2 1091" stroke-width="2.2"/>
<path d="M1402.6 1025.8L1425.5 1025.8" stroke-width="1.8"/>
<path d="M1456 1025.8L1478.5 1025.8" stroke-width="1.8"/>
<path d="M1500 1025.8L1531.5 1025.8" stroke-width="1.8"/>
<path d="M1402.6 1105.6L1425.5 1105.6" stroke-width="1.8"/>
<path d="M1456 1105.6L1478.5 1105.6" stroke-width="1.8"/>
<path d="M1500 1105.6L1531.5 1105.6" stroke-width="1.8"/>
<path d="M1393.6 1034.8Q1393.6 1025.8 1402.6 1025.8" stroke-width="1.8"/>
<path d="M1540.7 1034.8Q1540.7 1025.8 1531.7 1025.8" stroke-width="1.8"/>
<path d="M1393.6 1096.6Q1393.6 1105.6 1402.6 1105.6" stroke-width="1.8"/>
<path d="M1540.7 1096.6Q1540.7 1105.6 1531.7 1105.6" stroke-width="1.8"/>
<path d="M1393.6 1034.8L1393.6 1053.5" stroke-width="1.8"/>
<path d="M1393.6 1077.3L1393.6 1096.6" stroke-width="1.8"/>
<path d="M1540.7 1034.8L1540.7 1053.5" stroke-width="1.8"/>
<path d="M1540.7 1077.3L1540.7 1096.6" stroke-width="1.8"/>
<rect x="1407.1" y="1036.7" width="120.6" height="56.5" rx="0" stroke-width="2.2"/>
<path d="M1350.6 1091L1306.4 1091Q1302.4 1091 1302.4 1095L1302.4 1120.4Q1302.4 1124.4 1306.4 1124.4L1339.8 1124.4L1339.8 1141.3Q1339.8 1145.3 1343.8 1145.3L1349.5 1145.3M1364.9 1145.3L1370.6 1145.3Q1374.6 1145.3 1374.6 1141.3L1374.6 1124.4L1395.2 1124.4L1395.2 1141.3Q1395.2 1145.3 1399.2 1145.3L1404.9 1145.3M1420.3 1145.3L1426 1145.3Q1430 1145.3 1430 1141.3L1430 1124.4L1450.5 1124.4L1450.5 1141.3Q1450.5 1145.3 1454.5 1145.3L1460.2 1145.3M1475.6 1145.3L1481.3 1145.3Q1485.3 1145.3 1485.3 1141.3L1485.3 1124.4L1505.1 1124.4L1505.1 1141.3Q1505.1 1145.3 1509.1 1145.3L1514.8 1145.3M1530.2 1145.3L1535.9 1145.3Q1539.9 1145.3 1539.9 1141.3L1539.9 1124.4L1560.2 1124.4L1560.2 1141.3Q1560.2 1145.3 1564.2 1145.3L1569.9 1145.3M1585.3 1145.3L1591 1145.3Q1595 1145.3 1595 1141.3L1595 1124.4L1627.5 1124.4Q1631.5 1124.4 1631.5 1120.4L1631.5 1095Q1631.5 1091 1627.5 1091L1584.2 1091" stroke-width="2.2"/>
<path d="M1350.6 1091L1407.1 1091" stroke-width="2.2"/>
<path d="M1527.7 1091L1584.2 1091" stroke-width="2.2"/>
<path d="M1349.5 1115L1349.5 1166.7L1364.9 1166.7L1364.9 1115Z" stroke-width="2.2"/>
<path d="M1349.5 1120.3L1364.9 1120.3" stroke-width="1.7"/>
<path d="M1349.5 1155.6L1364.9 1155.6" stroke-width="2.4"/>
<path d="M1349.5 1160.3L1364.9 1160.3" stroke-width="1.7"/>
<path d="M1404.9 1115L1404.9 1166.7L1420.3 1166.7L1420.3 1115Z" stroke-width="2.2"/>
<path d="M1404.9 1120.3L1420.3 1120.3" stroke-width="1.7"/>
<path d="M1404.9 1155.6L1420.3 1155.6" stroke-width="2.4"/>
<path d="M1404.9 1160.3L1420.3 1160.3" stroke-width="1.7"/>
<path d="M1460.2 1115L1460.2 1166.7L1475.6 1166.7L1475.6 1115Z" stroke-width="2.2"/>
<path d="M1460.2 1120.3L1475.6 1120.3" stroke-width="1.7"/>
<path d="M1460.2 1155.6L1475.6 1155.6" stroke-width="2.4"/>
<path d="M1460.2 1160.3L1475.6 1160.3" stroke-width="1.7"/>
<path d="M1514.8 1115L1514.8 1166.7L1530.2 1166.7L1530.2 1115Z" stroke-width="2.2"/>
<path d="M1514.8 1120.3L1530.2 1120.3" stroke-width="1.7"/>
<path d="M1514.8 1155.6L1530.2 1155.6" stroke-width="2.4"/>
<path d="M1514.8 1160.3L1530.2 1160.3" stroke-width="1.7"/>
<path d="M1569.9 1115L1569.9 1166.7L1585.3 1166.7L1585.3 1115Z" stroke-width="2.2"/>
<path d="M1569.9 1120.3L1585.3 1120.3" stroke-width="1.7"/>
<path d="M1569.9 1155.6L1585.3 1155.6" stroke-width="2.4"/>
<path d="M1569.9 1160.3L1585.3 1160.3" stroke-width="1.7"/>
<path d="M1467.9 960.6L1467.9 1043.2" stroke-width="3"/>
<path d="M1467.9 1056.2L1467.9 1081.2" stroke-width="3"/>
<path d="M1467.9 1096.4L1467.9 1184.4" stroke-width="3"/>
<path d="M1392.6 888.9L1392.6 1030.5" stroke-width="2.2"/>
<path d="M1541.8 888.9L1541.8 1053.5" stroke-width="2.2"/>
<path d="M1392.6 893.7L1553.2 893.7" stroke-width="2.2"/>
<polygon points="1393,893.7 1403.5,892 1403.5,895.4" fill="#000" stroke="none"/>
<polygon points="1541.4,893.7 1530.9,892 1530.9,895.4" fill="#000" stroke="none"/>
<g class="d" font-size="38" text-anchor="middle" transform="translate(1553 906.6) rotate(0)"><text transform="translate(8.43 0) scale(0.87 1.03)">6</text><text transform="translate(21.4 0) scale(1.0 1.0)">.</text><text transform="translate(42.12 0) scale(0.87 1.03)">7</text><text transform="translate(58.98 0) scale(0.87 1.03)">5</text><text font-size="49.4" transform="translate(84.25 0) scale(0.98 1.06)">±</text><text transform="translate(109.53 0) scale(0.87 1.03)">0</text><text transform="translate(122.5 0) scale(1.0 1.0)">.</text><text transform="translate(143.23 0) scale(0.87 1.03)">1</text></g>
<circle cx="1469.7" cy="861.1" r="14.6" stroke-width="1.35"/>
<text transform="translate(1469.7 861.1) rotate(0) scale(0.57 1)" x="0" y="10.9" text-anchor="middle" font-size="33" class="s">P</text>
<path d="M1407.1 935.6L1407.1 1036.7" stroke-width="2.2"/>
<path d="M1527.9 935.6L1527.9 1036.7" stroke-width="2.2"/>
<path d="M1407.1 940.4L1541.6 940.4" stroke-width="2.2"/>
<polygon points="1407.5,940.4 1418,938.7 1418,942.1" fill="#000" stroke="none"/>
<polygon points="1527.5,940.4 1517,938.7 1517,942.1" fill="#000" stroke="none"/>
<g class="d" font-size="38" text-anchor="middle" transform="translate(1540.6 953) rotate(0)"><text transform="translate(8.43 0) scale(0.87 1.03)">5</text><text transform="translate(21.4 0) scale(1.0 1.0)">.</text><text transform="translate(42.12 0) scale(0.87 1.03)">5</text><text transform="translate(58.98 0) scale(0.87 1.03)">0</text><text font-size="49.4" transform="translate(84.25 0) scale(0.98 1.06)">±</text><text transform="translate(109.53 0) scale(0.87 1.03)">0</text><text transform="translate(122.5 0) scale(1.0 1.0)">.</text><text transform="translate(143.23 0) scale(0.87 1.03)">0</text><text transform="translate(160.08 0) scale(0.87 1.03)">5</text></g>
<circle cx="1469.7" cy="923" r="14.6" stroke-width="1.35"/>
<text transform="translate(1469.7 923) rotate(0) scale(0.57 1)" x="0" y="10.9" text-anchor="middle" font-size="33" class="s">Q</text>
<path d="M1535.6 1025.3L1714.7 1025.3" stroke-width="2.2"/>
<path d="M1535.6 1105.7L1714.7 1105.7" stroke-width="2.2"/>
<path d="M1530.4 1037L1672.9 1037" stroke-width="2.2"/>
<path d="M1530.4 1093.8L1672.9 1093.8" stroke-width="2.2"/>
<path d="M1668.6 1037L1668.6 1106.8" stroke-width="2.2"/>
<polygon points="1668.6,1037.4 1666.9,1047.9 1670.3,1047.9" fill="#000" stroke="none"/>
<polygon points="1668.6,1093.4 1666.9,1082.9 1670.3,1082.9" fill="#000" stroke="none"/>
<path d="M1710.3 1025.3L1710.3 1117.3" stroke-width="2.2"/>
<polygon points="1710.3,1025.7 1708.6,1036.2 1712,1036.2" fill="#000" stroke="none"/>
<polygon points="1710.3,1105.3 1708.6,1094.8 1712,1094.8" fill="#000" stroke="none"/>
<g class="d" font-size="38" text-anchor="middle" transform="translate(1681.6 1257.2) rotate(-90)"><text transform="translate(8.43 0) scale(0.87 1.03)">2</text><text transform="translate(21.4 0) scale(1.0 1.0)">.</text><text transform="translate(42.12 0) scale(0.87 1.03)">6</text><text transform="translate(58.98 0) scale(0.87 1.03)">0</text><text font-size="49.4" transform="translate(84.25 0) scale(0.98 1.06)">±</text><text transform="translate(109.53 0) scale(0.87 1.03)">0</text><text transform="translate(122.5 0) scale(1.0 1.0)">.</text><text transform="translate(143.23 0) scale(0.87 1.03)">1</text></g>
<g class="d" font-size="38" text-anchor="middle" transform="translate(1723.6 1267.6) rotate(-90)"><text transform="translate(8.43 0) scale(0.87 1.03)">3</text><text transform="translate(21.4 0) scale(1.0 1.0)">.</text><text transform="translate(42.12 0) scale(0.87 1.03)">6</text><text transform="translate(58.98 0) scale(0.87 1.03)">5</text><text font-size="49.4" transform="translate(84.25 0) scale(0.98 1.06)">±</text><text transform="translate(109.53 0) scale(0.87 1.03)">0</text><text transform="translate(122.5 0) scale(1.0 1.0)">.</text><text transform="translate(143.23 0) scale(0.87 1.03)">1</text></g>
<circle cx="1634.5" cy="1222.6" r="14.6" stroke-width="1.35"/>
<text transform="translate(1634.5 1222.6) rotate(0) scale(0.57 1)" x="0" y="10.9" text-anchor="middle" font-size="33" class="s">S</text>
<circle cx="1746.7" cy="1222.1" r="14.6" stroke-width="1.35"/>
<text transform="translate(1746.7 1222.1) rotate(0) scale(0.57 1)" x="0" y="10.9" text-anchor="middle" font-size="33" class="s">T</text>
<path d="M1349.3 1169.5L1349.3 1233.8" stroke-width="2.2"/>
<path d="M1365.1 1169.5L1365.1 1233.8" stroke-width="2.2"/>
<path d="M1327.4 1228.6L1349.3 1228.6" stroke-width="2.2"/>
<polygon points="1348.9,1228.6 1338.4,1226.9 1338.4,1230.3" fill="#000" stroke="none"/>
<path d="M1365.1 1228.6L1387.4 1228.6" stroke-width="2.2"/>
<polygon points="1365.5,1228.6 1376,1226.9 1376,1230.3" fill="#000" stroke="none"/>
<g class="d" font-size="38" text-anchor="middle" transform="translate(1388.6 1239.7) rotate(0)"><text transform="translate(8.43 0) scale(0.87 1.03)">0</text><text transform="translate(21.4 0) scale(1.0 1.0)">.</text><text transform="translate(42.12 0) scale(0.87 1.03)">7</text><text transform="translate(58.98 0) scale(0.87 1.03)">0</text><text font-size="49.4" transform="translate(84.25 0) scale(0.98 1.06)">±</text><text transform="translate(109.53 0) scale(0.87 1.03)">0</text><text transform="translate(122.5 0) scale(1.0 1.0)">.</text><text transform="translate(143.23 0) scale(0.87 1.03)">0</text><text transform="translate(160.08 0) scale(0.87 1.03)">5</text></g>
<circle cx="1417.9" cy="1266.4" r="14.6" stroke-width="1.35"/>
<text transform="translate(1417.9 1266.4) rotate(0) scale(0.57 1)" x="0" y="10.9" text-anchor="middle" font-size="33" class="s">R</text>
<path d="M885.7 1471.7L824.5 1471.7Q820.5 1471.7 820.5 1475.7L820.5 1796.9Q820.5 1800.9 824.5 1800.9L885.7 1800.9Z" stroke-width="2.2"/>
<path d="M1084.9 1471.7L1146.1 1471.7Q1150.1 1471.7 1150.1 1475.7L1150.1 1796.9Q1150.1 1800.9 1146.1 1800.9L1084.9 1800.9Z" stroke-width="2.2"/>
<path d="M820.5 1511.9Q820.5 1508.9 823.5 1508.9L876.1 1508.9Q884.6 1508.9 884.6 1517.4L884.6 1536.2Q884.6 1544.7 876.1 1544.7L823.5 1544.7Q820.5 1544.7 820.5 1541.7" stroke-width="2.2"/>
<path d="M1150.1 1511.9Q1150.1 1508.9 1147.1 1508.9L1094.5 1508.9Q1086 1508.9 1086 1517.4L1086 1536.2Q1086 1544.7 1094.5 1544.7L1147.1 1544.7Q1150.1 1544.7 1150.1 1541.7" stroke-width="2.2"/>
<path d="M820.5 1519.2L751 1519.2L751 1534.4L820.5 1534.4" stroke-width="2.2"/>
<path d="M779.9 1519.2L779.9 1534.4" stroke-width="1.8"/>
<path d="M788.6 1519.2L788.6 1534.4" stroke-width="1.8"/>
<path d="M809.7 1519.2L809.7 1534.4" stroke-width="1.8"/>
<path d="M814 1519.2L814 1534.4" stroke-width="1.8"/>
<path d="M1150.1 1519.2L1218.8 1519.2L1218.8 1534.4L1150.1 1534.4" stroke-width="2.2"/>
<path d="M1156.6 1519.2L1156.6 1534.4" stroke-width="1.8"/>
<path d="M1161 1519.2L1161 1534.4" stroke-width="1.8"/>
<path d="M1182 1519.2L1182 1534.4" stroke-width="1.8"/>
<path d="M1190.8 1519.2L1190.8 1534.4" stroke-width="1.8"/>
<path d="M820.5 1567Q820.5 1564 823.5 1564L876.1 1564Q884.6 1564 884.6 1572.5L884.6 1591.3Q884.6 1599.8 876.1 1599.8L823.5 1599.8Q820.5 1599.8 820.5 1596.8" stroke-width="2.2"/>
<path d="M1150.1 1567Q1150.1 1564 1147.1 1564L1094.5 1564Q1086 1564 1086 1572.5L1086 1591.3Q1086 1599.8 1094.5 1599.8L1147.1 1599.8Q1150.1 1599.8 1150.1 1596.8" stroke-width="2.2"/>
<path d="M820.5 1574.3L751 1574.3L751 1589.5L820.5 1589.5" stroke-width="2.2"/>
<path d="M779.9 1574.3L779.9 1589.5" stroke-width="1.8"/>
<path d="M788.6 1574.3L788.6 1589.5" stroke-width="1.8"/>
<path d="M809.7 1574.3L809.7 1589.5" stroke-width="1.8"/>
<path d="M814 1574.3L814 1589.5" stroke-width="1.8"/>
<path d="M1150.1 1574.3L1218.8 1574.3L1218.8 1589.5L1150.1 1589.5" stroke-width="2.2"/>
<path d="M1156.6 1574.3L1156.6 1589.5" stroke-width="1.8"/>
<path d="M1161 1574.3L1161 1589.5" stroke-width="1.8"/>
<path d="M1182 1574.3L1182 1589.5" stroke-width="1.8"/>
<path d="M1190.8 1574.3L1190.8 1589.5" stroke-width="1.8"/>
<path d="M820.5 1621.9Q820.5 1618.9 823.5 1618.9L876.1 1618.9Q884.6 1618.9 884.6 1627.4L884.6 1646.2Q884.6 1654.7 876.1 1654.7L823.5 1654.7Q820.5 1654.7 820.5 1651.7" stroke-width="2.2"/>
<path d="M1150.1 1621.9Q1150.1 1618.9 1147.1 1618.9L1094.5 1618.9Q1086 1618.9 1086 1627.4L1086 1646.2Q1086 1654.7 1094.5 1654.7L1147.1 1654.7Q1150.1 1654.7 1150.1 1651.7" stroke-width="2.2"/>
<path d="M820.5 1629.2L751 1629.2L751 1644.4L820.5 1644.4" stroke-width="2.2"/>
<path d="M779.9 1629.2L779.9 1644.4" stroke-width="1.8"/>
<path d="M788.6 1629.2L788.6 1644.4" stroke-width="1.8"/>
<path d="M809.7 1629.2L809.7 1644.4" stroke-width="1.8"/>
<path d="M814 1629.2L814 1644.4" stroke-width="1.8"/>
<path d="M1150.1 1629.2L1218.8 1629.2L1218.8 1644.4L1150.1 1644.4" stroke-width="2.2"/>
<path d="M1156.6 1629.2L1156.6 1644.4" stroke-width="1.8"/>
<path d="M1161 1629.2L1161 1644.4" stroke-width="1.8"/>
<path d="M1182 1629.2L1182 1644.4" stroke-width="1.8"/>
<path d="M1190.8 1629.2L1190.8 1644.4" stroke-width="1.8"/>
<path d="M820.5 1676.8Q820.5 1673.8 823.5 1673.8L876.1 1673.8Q884.6 1673.8 884.6 1682.3L884.6 1701.1Q884.6 1709.6 876.1 1709.6L823.5 1709.6Q820.5 1709.6 820.5 1706.6" stroke-width="2.2"/>
<path d="M1150.1 1676.8Q1150.1 1673.8 1147.1 1673.8L1094.5 1673.8Q1086 1673.8 1086 1682.3L1086 1701.1Q1086 1709.6 1094.5 1709.6L1147.1 1709.6Q1150.1 1709.6 1150.1 1706.6" stroke-width="2.2"/>
<path d="M820.5 1684.1L751 1684.1L751 1699.3L820.5 1699.3" stroke-width="2.2"/>
<path d="M779.9 1684.1L779.9 1699.3" stroke-width="1.8"/>
<path d="M788.6 1684.1L788.6 1699.3" stroke-width="1.8"/>
<path d="M809.7 1684.1L809.7 1699.3" stroke-width="1.8"/>
<path d="M814 1684.1L814 1699.3" stroke-width="1.8"/>
<path d="M1150.1 1684.1L1218.8 1684.1L1218.8 1699.3L1150.1 1699.3" stroke-width="2.2"/>
<path d="M1156.6 1684.1L1156.6 1699.3" stroke-width="1.8"/>
<path d="M1161 1684.1L1161 1699.3" stroke-width="1.8"/>
<path d="M1182 1684.1L1182 1699.3" stroke-width="1.8"/>
<path d="M1190.8 1684.1L1190.8 1699.3" stroke-width="1.8"/>
<path d="M820.5 1731.6Q820.5 1728.6 823.5 1728.6L876.1 1728.6Q884.6 1728.6 884.6 1737.1L884.6 1755.9Q884.6 1764.4 876.1 1764.4L823.5 1764.4Q820.5 1764.4 820.5 1761.4" stroke-width="2.2"/>
<path d="M1150.1 1731.6Q1150.1 1728.6 1147.1 1728.6L1094.5 1728.6Q1086 1728.6 1086 1737.1L1086 1755.9Q1086 1764.4 1094.5 1764.4L1147.1 1764.4Q1150.1 1764.4 1150.1 1761.4" stroke-width="2.2"/>
<path d="M820.5 1738.9L751 1738.9L751 1754.1L820.5 1754.1" stroke-width="2.2"/>
<path d="M779.9 1738.9L779.9 1754.1" stroke-width="1.8"/>
<path d="M788.6 1738.9L788.6 1754.1" stroke-width="1.8"/>
<path d="M809.7 1738.9L809.7 1754.1" stroke-width="1.8"/>
<path d="M814 1738.9L814 1754.1" stroke-width="1.8"/>
<path d="M1150.1 1738.9L1218.8 1738.9L1218.8 1754.1L1150.1 1754.1" stroke-width="2.2"/>
<path d="M1156.6 1738.9L1156.6 1754.1" stroke-width="1.8"/>
<path d="M1161 1738.9L1161 1754.1" stroke-width="1.8"/>
<path d="M1182 1738.9L1182 1754.1" stroke-width="1.8"/>
<path d="M1190.8 1738.9L1190.8 1754.1" stroke-width="1.8"/>
<path d="M831.4 1599.8L831.4 1618.9" stroke-width="1.9"/>
<path d="M1139.2 1599.8L1139.2 1618.9" stroke-width="1.9"/>
<path d="M831.4 1654.7L831.4 1673.8" stroke-width="1.9"/>
<path d="M1139.2 1654.7L1139.2 1673.8" stroke-width="1.9"/>
<path d="M885.7 1562.5L1084.9 1562.5" stroke-width="2.2"/>
<path d="M885.7 1710.1L1084.9 1710.1" stroke-width="2.2"/>
<path d="M730.4 1636.4L827.1 1636.4" stroke-width="3"/>
<path d="M839 1636.4L859.7 1636.4" stroke-width="3"/>
<path d="M876 1636.4L956.4 1636.4" stroke-width="3"/>
<path d="M974.8 1636.4L992.4 1636.4" stroke-width="3"/>
<path d="M1007.8 1636.4L1092.6 1636.4" stroke-width="3"/>
<path d="M1104.5 1636.4L1127.3 1636.4" stroke-width="3"/>
<path d="M1141.5 1636.4L1236 1636.4" stroke-width="3"/>
<path d="M985.2 1521.3L985.2 1616.2" stroke-width="3"/>
<path d="M985.2 1630.3L985.2 1647.7" stroke-width="3"/>
<path d="M985.2 1664L985.2 1758.1" stroke-width="3"/>
<text class="n" x="837.2" y="1497" font-size="23.5" text-anchor="middle">5</text>
<text class="n" x="837.2" y="1790.8" font-size="23.5" text-anchor="middle">1</text>
<text class="n" x="1133.2" y="1497.4" font-size="23.5" text-anchor="middle">6</text>
<text class="n" x="1133.6" y="1790.8" font-size="23.5" text-anchor="middle">10</text>
<path d="M653.9 1526.7L748.8 1526.7" stroke-width="2.2"/>
<path d="M653.9 1745.9L748.8 1745.9" stroke-width="2.2"/>
<path d="M659.1 1526.7L659.1 1594.5" stroke-width="2.2"/>
<path d="M659.1 1681.4L659.1 1745.9" stroke-width="2.2"/>
<polygon points="659.1,1527.1 657.4,1537.6 660.8,1537.6" fill="#000" stroke="none"/>
<polygon points="659.1,1745.5 657.4,1735 660.8,1735" fill="#000" stroke="none"/>
<g class="d" font-size="38" text-anchor="middle" transform="translate(671.8 1678.2) rotate(-90)"><text transform="translate(8.43 0) scale(0.87 1.03)">1</text><text transform="translate(25.28 0) scale(0.87 1.03)">0</text><text transform="translate(38.25 0) scale(1.0 1.0)">.</text><text transform="translate(58.98 0) scale(0.87 1.03)">0</text><text transform="translate(75.83 0) scale(0.87 1.03)">0</text></g>
<circle cx="625" cy="1641" r="14.6" stroke-width="1.35"/>
<text transform="translate(625 1641) rotate(0) scale(0.57 1)" x="0" y="10.9" text-anchor="middle" font-size="33" class="s">U</text>
<path d="M701 1691.2L748.8 1691.2" stroke-width="2.2"/>
<path d="M706.5 1681.4L706.5 1745.9" stroke-width="2.2"/>
<polygon points="706.5,1691.6 704.8,1702.1 708.2,1702.1" fill="#000" stroke="none"/>
<polygon points="706.5,1745.5 704.8,1735 708.2,1735" fill="#000" stroke="none"/>
<g class="d" font-size="38" text-anchor="middle" transform="translate(720.6 1679.5) rotate(-90)"><text transform="translate(8.43 0) scale(0.87 1.03)">2</text><text transform="translate(21.4 0) scale(1.0 1.0)">.</text><text transform="translate(42.12 0) scale(0.87 1.03)">5</text><text transform="translate(58.98 0) scale(0.87 1.03)">0</text><text font-size="49.4" transform="translate(84.25 0) scale(0.98 1.06)">±</text><text transform="translate(109.53 0) scale(0.87 1.03)">0</text><text transform="translate(122.5 0) scale(1.0 1.0)">.</text><text transform="translate(143.23 0) scale(0.87 1.03)">1</text></g>
<circle cx="705.4" cy="1767.7" r="14.6" stroke-width="1.35"/>
<text transform="translate(705.4 1767.7) rotate(0) scale(0.57 1)" x="0" y="10.9" text-anchor="middle" font-size="33" class="s">V</text>
<path d="M1149 1508.8L1314.2 1508.8" stroke-width="2.2"/>
<path d="M1149 1544.5L1314.2 1544.5" stroke-width="2.4"/>
<path d="M1149 1563.8L1262.1 1563.8" stroke-width="2.2"/>
<path d="M1309.2 1508.8L1309.2 1556.5" stroke-width="2.2"/>
<polygon points="1309.2,1509.2 1307.5,1519.7 1310.9,1519.7" fill="#000" stroke="none"/>
<polygon points="1309.2,1544.1 1307.5,1533.6 1310.9,1533.6" fill="#000" stroke="none"/>
<path d="M1258.1 1522.8L1258.1 1544.3" stroke-width="2.2"/>
<polygon points="1258.1,1543.9 1256.4,1533.4 1259.8,1533.4" fill="#000" stroke="none"/>
<path d="M1258.1 1563.8L1258.1 1589.1" stroke-width="2.2"/>
<polygon points="1258.1,1564.2 1256.4,1574.7 1259.8,1574.7" fill="#000" stroke="none"/>
<g class="d" font-size="38" text-anchor="middle" transform="translate(1270.4 1716.9) rotate(-90)"><text transform="translate(8.65 0) scale(1.0 1.08)">0</text><text transform="translate(21.97 0) scale(1.0 1.0)">.</text><text transform="translate(43.25 0) scale(1.0 1.08)">9</text><text transform="translate(60.55 0) scale(1.0 1.08)">0</text><text transform="translate(78.85 -4.4) scale(0.8 1.026)">(</text><text transform="translate(95.15 0) scale(1.0 1.08)">8</text><text transform="translate(112.45 0) scale(0.8 1.08)">X</text><text transform="translate(124.75 -4.4) scale(0.8 1.026)">)</text></g>
<g class="d" font-size="38" text-anchor="middle" transform="translate(1320.4 1703.2) rotate(-90)"><text transform="translate(8.2 0) scale(0.9 1.1)">1</text><text transform="translate(20.83 0) scale(1.0 1.0)">.</text><text transform="translate(41 0) scale(0.9 1.1)">6</text><text transform="translate(57.4 0) scale(0.9 1.1)">0</text><text transform="translate(78.3 -4.4) scale(0.8 1.045)">(</text><text transform="translate(90.2 0) scale(0.9 1.1)">1</text><text transform="translate(106.6 0) scale(0.9 1.1)">0</text><text transform="translate(123 0) scale(0.7200000000000001 1.1)">X</text><text transform="translate(138.9 -4.4) scale(0.8 1.045)">)</text></g>
<g transform="translate(1340 410) scale(0.086911)">
<path d="M320 1812L300 1830L216 1791Q180 1783 175 1753L175 1150Q180 990 290 935L750 668Q792 648 828 686L878 742Q905 762 950 737Q1020 690 1055 590Q1078 500 1108 465Q1122 450 1142 440L1590 170Q1650 145 1710 195Q1785 245 1790 335L1790 830" stroke-width="2.3" vector-effect="non-scaling-stroke"/>
<path d="M245 1805L245 1175Q252 1025 340 972L795 703Q815 695 842 718L882 762Q920 800 975 772Q1050 730 1100 620Q1130 540 1150 512Q1165 496 1182 488L1620 224Q1655 210 1692 240" stroke-width="2.3" vector-effect="non-scaling-stroke"/>
<path d="M320 1812L320 1195Q325 1060 400 1004L838 747L880 790Q920 852 990 845Q1080 800 1150 700Q1200 615 1212 560Q1217 540 1232 530L1650 273Q1700 255 1752 287Q1782 310 1788 345" stroke-width="2.3" vector-effect="non-scaling-stroke"/>
<path d="M178 1150Q240 1188 320 1192" stroke-width="2.3" vector-effect="non-scaling-stroke"/>
<path d="M290 935Q345 978 400 1004" stroke-width="2.3" vector-effect="non-scaling-stroke"/>
<path d="M1108 465Q1160 498 1215 542" stroke-width="2.3" vector-effect="non-scaling-stroke"/>
<path d="M1590 170Q1645 215 1690 268" stroke-width="2.3" vector-effect="non-scaling-stroke"/>
<path d="M612 1160L1490 668" stroke-width="2.3" vector-effect="non-scaling-stroke"/>
</g>
<g transform="translate(1340 410) scale(0.086911)">
<path d="M1490 668L1841 872" stroke-width="3" vector-effect="non-scaling-stroke"/>
</g>
<g transform="translate(1370 490) scale(0.086911)">
<path d="M270 240Q214 268 206 350L208 830Q212 850 238 862" stroke-width="2.3" vector-effect="non-scaling-stroke"/>
<path d="M272 243L1322 850" stroke-width="2.3" vector-effect="non-scaling-stroke"/>
<path d="M208 353L1266 940" stroke-width="2.3" vector-effect="non-scaling-stroke"/>
<path d="M1258 1667L1258 1050Q1263 915 1345 850L1705 640" stroke-width="2.3" vector-effect="non-scaling-stroke"/>
<path d="M1345 1728L1345 1085Q1350 960 1432 893L1790 685" stroke-width="2.3" vector-effect="non-scaling-stroke"/>
<path d="M1262 1050Q1300 1070 1345 1085" stroke-width="2.3" vector-effect="non-scaling-stroke"/>
<path d="M1345 850Q1390 870 1432 893" stroke-width="2.3" vector-effect="non-scaling-stroke"/>
</g>
<g transform="translate(1370 490) scale(0.086911)">
<path d="M212 832L1258 1418" stroke-width="1.9" vector-effect="non-scaling-stroke"/>
<path d="M240 866L1258 1440" stroke-width="1.9" vector-effect="non-scaling-stroke"/>
</g>
<g transform="translate(1280 540) scale(0.119503)">
<path d="M205 190Q188 200 190 230L190 395Q192 410 210 420L490 570L490 365" stroke-width="2.3" vector-effect="non-scaling-stroke"/>
<path d="M212 215L490 365L725 237" stroke-width="2.3" vector-effect="non-scaling-stroke"/>
<path d="M200 250L482 400" stroke-width="2.3" vector-effect="non-scaling-stroke"/>
<path d="M490 568L565 522Q600 565 660 560Q712 550 718 500L718 437L762 410L762 478Q785 492 800 455L800 392L965 290L965 345" stroke-width="2.3" vector-effect="non-scaling-stroke"/>
<path d="M835 372Q870 412 935 410Q1010 395 1045 335L1050 285" stroke-width="2.3" vector-effect="non-scaling-stroke"/>
<path d="M1030 278L1030 330" stroke-width="2.3" vector-effect="non-scaling-stroke"/>
<path d="M185 232L135 205L68 265Q60 275 65 300L185 368" stroke-width="2.3" vector-effect="non-scaling-stroke"/>
<path d="M72 263L185 322" stroke-width="2.3" vector-effect="non-scaling-stroke"/>
<path d="M335 98L345 82L405 52L412 60" stroke-width="2.3" vector-effect="non-scaling-stroke"/>
<path d="M590 15L598 2L612 -6" stroke-width="2.3" vector-effect="non-scaling-stroke"/>
</g>
<g transform="translate(1280 540) scale(0.119503)">
<path d="M205 190L600 -33" stroke-width="3" vector-effect="non-scaling-stroke"/>
</g>
<g transform="translate(1480 410) scale(0.119503)">
<path d="M130 450L370 590L370 748" stroke-width="2.3" vector-effect="non-scaling-stroke"/>
<path d="M208 652L342 577" stroke-width="2.3" vector-effect="non-scaling-stroke"/>
<path d="M322 1134L348 1147L376 1158L815 877L815 850L1020 725Q1065 700 1115 740Q1160 775 1160 835L1160 1290L895 1442L882 1160L315 1478L315 1776" stroke-width="2.3" vector-effect="non-scaling-stroke"/>
<path d="M376 1158L396 1202L852 917" stroke-width="2.3" vector-effect="non-scaling-stroke"/>
<path d="M815 877L852 895L880 917" stroke-width="2.3" vector-effect="non-scaling-stroke"/>
<path d="M852 893L1042 778" stroke-width="2.3" vector-effect="non-scaling-stroke"/>
<path d="M630 1310L1110 1590" stroke-width="2.3" vector-effect="non-scaling-stroke"/>
<path d="M884 1440L1130 1590" stroke-width="2.3" vector-effect="non-scaling-stroke"/>
<path d="M1162 1208L1290 1125L1578 1288Q1600 1300 1603 1330" stroke-width="2.3" vector-effect="non-scaling-stroke"/>
</g>
<g transform="translate(1480 410) scale(0.119503)">
<path d="M-87 486L700 945" stroke-width="3" vector-effect="non-scaling-stroke"/>
</g>
<g transform="translate(1440 560) scale(0.141223)">
<path d="M270 527L95 625Q68 640 70 675L70 780L330 928Q345 936 360 926" stroke-width="2.3" vector-effect="non-scaling-stroke"/>
<path d="M92 632L335 775Q350 785 365 778L735 562L745 575L745 600L1232 300L1240 270L1600 45Q1630 30 1640 60L1640 190L1530 255" stroke-width="2.3" vector-effect="non-scaling-stroke"/>
<path d="M80 690L310 815Q335 826 355 815L742 597" stroke-width="2.3" vector-effect="non-scaling-stroke"/>
<path d="M1245 295L1615 72" stroke-width="2.3" vector-effect="non-scaling-stroke"/>
<path d="M305 808L305 922" stroke-width="2.3" vector-effect="non-scaling-stroke"/>
<path d="M350 800L350 922" stroke-width="2.3" vector-effect="non-scaling-stroke"/>
<path d="M276 525L330 565L548 440L548 186" stroke-width="2.3" vector-effect="non-scaling-stroke"/>
<path d="M550 440L720 540L745 560" stroke-width="2.3" vector-effect="non-scaling-stroke"/>
<path d="M1040 156L1265 30" stroke-width="2.3" vector-effect="non-scaling-stroke"/>
<path d="M350 922L525 822.77" stroke-width="2.3" vector-effect="non-scaling-stroke"/>
<path d="M645 754.74L748 696.33" stroke-width="2.3" vector-effect="non-scaling-stroke"/>
<path d="M866 629.43L969 571.03" stroke-width="2.3" vector-effect="non-scaling-stroke"/>
<path d="M1087 504.12L1190 445.72" stroke-width="2.3" vector-effect="non-scaling-stroke"/>
<path d="M1308 378.81L1411 320.41" stroke-width="2.3" vector-effect="non-scaling-stroke"/>
<path d="M530 798L588 763L642 792L586 828Z" stroke-width="2.3" vector-effect="non-scaling-stroke"/>
<path d="M530 798Q540 840 575 880L650 1085Q665 1125 700 1140L797 1190L860 1152L860 1105L760 1045Q730 1050 715 1030L655 845L642 792" stroke-width="2.3" vector-effect="non-scaling-stroke"/>
<path d="M586 828L600 872L665 1055Q680 1078 702 1080L800 1140L860 1105" stroke-width="2.3" vector-effect="non-scaling-stroke"/>
<path d="M800 1140L798 1190" stroke-width="2.3" vector-effect="non-scaling-stroke"/>
<path d="M702 1080L760 1045" stroke-width="2.3" vector-effect="non-scaling-stroke"/>
<path d="M640 772L690 828L762 790L762 700" stroke-width="2.3" vector-effect="non-scaling-stroke"/>
<path d="M683 748L683 820" stroke-width="2.3" vector-effect="non-scaling-stroke"/>
<path d="M722 728L722 805" stroke-width="2.3" vector-effect="non-scaling-stroke"/>
<path d="M751 669L809 634L863 663L807 699Z" stroke-width="2.3" vector-effect="non-scaling-stroke"/>
<path d="M751 669Q761 711 796 751L871 956Q886 996 921 1011L1018 1061L1081 1023L1081 976L981 916Q951 921 936 901L876 716L863 663" stroke-width="2.3" vector-effect="non-scaling-stroke"/>
<path d="M807 699L821 743L886 926Q901 949 923 951L1021 1011L1081 976" stroke-width="2.3" vector-effect="non-scaling-stroke"/>
<path d="M1021 1011L1019 1061" stroke-width="2.3" vector-effect="non-scaling-stroke"/>
<path d="M923 951L981 916" stroke-width="2.3" vector-effect="non-scaling-stroke"/>
<path d="M861 643L911 699L983 661L983 571" stroke-width="2.3" vector-effect="non-scaling-stroke"/>
<path d="M904 619L904 691" stroke-width="2.3" vector-effect="non-scaling-stroke"/>
<path d="M943 599L943 676" stroke-width="2.3" vector-effect="non-scaling-stroke"/>
<path d="M972 540L1030 505L1084 534L1028 570Z" stroke-width="2.3" vector-effect="non-scaling-stroke"/>
<path d="M972 540Q982 582 1017 622L1092 827Q1107 867 1142 882L1239 932L1302 894L1302 847L1202 787Q1172 792 1157 772L1097 587L1084 534" stroke-width="2.3" vector-effect="non-scaling-stroke"/>
<path d="M1028 570L1042 614L1107 797Q1122 820 1144 822L1242 882L1302 847" stroke-width="2.3" vector-effect="non-scaling-stroke"/>
<path d="M1242 882L1240 932" stroke-width="2.3" vector-effect="non-scaling-stroke"/>
<path d="M1144 822L1202 787" stroke-width="2.3" vector-effect="non-scaling-stroke"/>
<path d="M1082 514L1132 570L1204 532L1204 442" stroke-width="2.3" vector-effect="non-scaling-stroke"/>
<path d="M1125 490L1125 562" stroke-width="2.3" vector-effect="non-scaling-stroke"/>
<path d="M1164 470L1164 547" stroke-width="2.3" vector-effect="non-scaling-stroke"/>
<path d="M1193 411L1251 376L1305 405L1249 441Z" stroke-width="2.3" vector-effect="non-scaling-stroke"/>
<path d="M1193 411Q1203 453 1238 493L1313 698Q1328 738 1363 753L1460 803L1523 765L1523 718L1423 658Q1393 663 1378 643L1318 458L1305 405" stroke-width="2.3" vector-effect="non-scaling-stroke"/>
<path d="M1249 441L1263 485L1328 668Q1343 691 1365 693L1463 753L1523 718" stroke-width="2.3" vector-effect="non-scaling-stroke"/>
<path d="M1463 753L1461 803" stroke-width="2.3" vector-effect="non-scaling-stroke"/>
<path d="M1365 693L1423 658" stroke-width="2.3" vector-effect="non-scaling-stroke"/>
<path d="M1303 385L1353 441L1425 403L1425 313" stroke-width="2.3" vector-effect="non-scaling-stroke"/>
<path d="M1346 361L1346 433" stroke-width="2.3" vector-effect="non-scaling-stroke"/>
<path d="M1385 341L1385 418" stroke-width="2.3" vector-effect="non-scaling-stroke"/>
<path d="M1414 282L1472 247L1526 276L1470 312Z" stroke-width="2.3" vector-effect="non-scaling-stroke"/>
<path d="M1414 282Q1424 324 1459 364L1534 569Q1549 609 1584 624L1681 674L1744 636L1744 589L1644 529Q1614 534 1599 514L1539 329L1526 276" stroke-width="2.3" vector-effect="non-scaling-stroke"/>
<path d="M1470 312L1484 356L1549 539Q1564 562 1586 564L1684 624L1744 589" stroke-width="2.3" vector-effect="non-scaling-stroke"/>
<path d="M1684 624L1682 674" stroke-width="2.3" vector-effect="non-scaling-stroke"/>
<path d="M1586 564L1644 529" stroke-width="2.3" vector-effect="non-scaling-stroke"/>
<path d="M415 892L470 945L540 908L540 830" stroke-width="2.3" vector-effect="non-scaling-stroke"/>
<path d="M460 868L460 935" stroke-width="2.3" vector-effect="non-scaling-stroke"/>
<path d="M497 850L497 928" stroke-width="2.3" vector-effect="non-scaling-stroke"/>
</g>
<g transform="translate(1330 1540) scale(0.141223)">
<path d="M550 545L550 215Q553 150 615 135Q655 128 690 155L940 300" stroke-width="2.3" vector-effect="non-scaling-stroke"/>
<path d="M583 555L583 210Q588 168 622 150" stroke-width="2.3" vector-effect="non-scaling-stroke"/>
<path d="M630 585L630 185" stroke-width="2.3" vector-effect="non-scaling-stroke"/>
<path d="M420 470L185 603Q165 615 165 640L165 745L320 838" stroke-width="2.3" vector-effect="non-scaling-stroke"/>
<path d="M420 470L548 542" stroke-width="2.3" vector-effect="non-scaling-stroke"/>
<path d="M420 472L420 578" stroke-width="2.3" vector-effect="non-scaling-stroke"/>
<path d="M183 730L405 613L415 648L614 757" stroke-width="2.3" vector-effect="non-scaling-stroke"/>
<path d="M211 763L414 647" stroke-width="2.3" vector-effect="non-scaling-stroke"/>
<path d="M420 578L420 613" stroke-width="2.3" vector-effect="non-scaling-stroke"/>
<path d="M630 585L776 668" stroke-width="2.3" vector-effect="non-scaling-stroke"/>
<path d="M1210 165L790 405Q776 415 776 440L776 705Q780 730 805 745L1350 1075L2042 681" stroke-width="2.3" vector-effect="non-scaling-stroke"/>
<path d="M790 712L1430 347" stroke-width="2.3" vector-effect="non-scaling-stroke"/>
<path d="M832 768L1452 408" stroke-width="2.3" vector-effect="non-scaling-stroke"/>
<path d="M1520 978L1520 1105L1722 1222Q1740 1235 1740 1262L1740 1372L1500 1510Q1470 1522 1440 1505" stroke-width="2.3" vector-effect="non-scaling-stroke"/>
<path d="M1539 1274L1539 1385" stroke-width="2.3" vector-effect="non-scaling-stroke"/>
<path d="M1567 1302L1567 1394" stroke-width="2.3" vector-effect="non-scaling-stroke"/>
<path d="M1567 1302L1699 1382" stroke-width="2.3" vector-effect="non-scaling-stroke"/>
<path d="M1478 1237L1493 1250L1493 1330" stroke-width="2.3" vector-effect="non-scaling-stroke"/>
</g>
<g transform="translate(1335 1620) scale(0.086911)">
<path d="M455 480L800 285Q850 262 902 282L935 302L935 440L1012 490L1018 560" stroke-width="2.3" vector-effect="non-scaling-stroke"/>
<path d="M455 480L455 620Q460 650 490 665L632 755Q652 765 672 752L815 674" stroke-width="2.3" vector-effect="non-scaling-stroke"/>
<path d="M960 592L1018 560" stroke-width="2.3" vector-effect="non-scaling-stroke"/>
<path d="M470 585L790 410" stroke-width="2.3" vector-effect="non-scaling-stroke"/>
<path d="M492 640L850 452Q880 445 905 462L1000 525" stroke-width="2.3" vector-effect="non-scaling-stroke"/>
<path d="M800 288L800 420Q812 452 850 452" stroke-width="2.3" vector-effect="non-scaling-stroke"/>
<path d="M800 408Q865 385 935 425" stroke-width="2.3" vector-effect="non-scaling-stroke"/>
<path d="M1015 335L1015 500" stroke-width="2.3" vector-effect="non-scaling-stroke"/>
<path d="M1045 352L1045 520" stroke-width="2.3" vector-effect="non-scaling-stroke"/>
<path d="M1015 332L1250 470" stroke-width="2.3" vector-effect="non-scaling-stroke"/>
<path d="M440 495Q395 535 372 595L290 830Q272 882 228 908L60 1000Q42 1015 46 1042L50 1072L165 1140L372 1012Q405 990 418 930L500 688" stroke-width="2.3" vector-effect="non-scaling-stroke"/>
<path d="M452 560Q425 600 415 640L340 850Q322 900 272 930L98 1024Q78 1040 80 1055L172 1108L345 1005" stroke-width="2.3" vector-effect="non-scaling-stroke"/>
<path d="M315 900L392 952" stroke-width="2.3" vector-effect="non-scaling-stroke"/>
<path d="M272 930L345 985" stroke-width="2.3" vector-effect="non-scaling-stroke"/>
<path d="M172 1108L168 1138" stroke-width="2.3" vector-effect="non-scaling-stroke"/>
<path d="M814 689.5L1159 494.5Q1209 471.5 1261 491.5L1294 511.5L1294 649.5L1371 699.5L1377 769.5" stroke-width="2.3" vector-effect="non-scaling-stroke"/>
<path d="M814 689.5L814 829.5Q819 859.5 849 874.5L991 964.5Q1011 974.5 1031 961.5L1174 883.5" stroke-width="2.3" vector-effect="non-scaling-stroke"/>
<path d="M1319 801.5L1377 769.5" stroke-width="2.3" vector-effect="non-scaling-stroke"/>
<path d="M829 794.5L1149 619.5" stroke-width="2.3" vector-effect="non-scaling-stroke"/>
<path d="M851 849.5L1209 661.5Q1239 654.5 1264 671.5L1359 734.5" stroke-width="2.3" vector-effect="non-scaling-stroke"/>
<path d="M1159 497.5L1159 629.5Q1171 661.5 1209 661.5" stroke-width="2.3" vector-effect="non-scaling-stroke"/>
<path d="M1159 617.5Q1224 594.5 1294 634.5" stroke-width="2.3" vector-effect="non-scaling-stroke"/>
<path d="M1374 544.5L1374 709.5" stroke-width="2.3" vector-effect="non-scaling-stroke"/>
<path d="M1404 561.5L1404 729.5" stroke-width="2.3" vector-effect="non-scaling-stroke"/>
<path d="M1374 541.5L1609 679.5" stroke-width="2.3" vector-effect="non-scaling-stroke"/>
<path d="M799 704.5Q754 744.5 731 804.5L649 1039.5Q631 1091.5 587 1117.5L419 1209.5Q401 1224.5 405 1251.5L409 1281.5L524 1349.5L731 1221.5Q764 1199.5 777 1139.5L859 897.5" stroke-width="2.3" vector-effect="non-scaling-stroke"/>
<path d="M811 769.5Q784 809.5 774 849.5L699 1059.5Q681 1109.5 631 1139.5L457 1233.5Q437 1249.5 439 1264.5L531 1317.5L704 1214.5" stroke-width="2.3" vector-effect="non-scaling-stroke"/>
<path d="M674 1109.5L751 1161.5" stroke-width="2.3" vector-effect="non-scaling-stroke"/>
<path d="M631 1139.5L704 1194.5" stroke-width="2.3" vector-effect="non-scaling-stroke"/>
<path d="M531 1317.5L527 1347.5" stroke-width="2.3" vector-effect="non-scaling-stroke"/>
<path d="M1173 899L1518 704Q1568 681 1620 701L1653 721L1653 859L1730 909L1736 979" stroke-width="2.3" vector-effect="non-scaling-stroke"/>
<path d="M1173 899L1173 1039Q1178 1069 1208 1084L1350 1174Q1370 1184 1390 1171L1533 1093" stroke-width="2.3" vector-effect="non-scaling-stroke"/>
<path d="M1678 1011L1736 979" stroke-width="2.3" vector-effect="non-scaling-stroke"/>
<path d="M1188 1004L1508 829" stroke-width="2.3" vector-effect="non-scaling-stroke"/>
<path d="M1210 1059L1568 871Q1598 864 1623 881L1718 944" stroke-width="2.3" vector-effect="non-scaling-stroke"/>
<path d="M1518 707L1518 839Q1530 871 1568 871" stroke-width="2.3" vector-effect="non-scaling-stroke"/>
<path d="M1518 827Q1583 804 1653 844" stroke-width="2.3" vector-effect="non-scaling-stroke"/>
<path d="M1733 754L1733 919" stroke-width="2.3" vector-effect="non-scaling-stroke"/>
<path d="M1763 771L1763 939" stroke-width="2.3" vector-effect="non-scaling-stroke"/>
<path d="M1733 751L1968 889" stroke-width="2.3" vector-effect="non-scaling-stroke"/>
<path d="M1158 914Q1113 954 1090 1014L1008 1249Q990 1301 946 1327L778 1419Q760 1434 764 1461L768 1491L883 1559L1090 1431Q1123 1409 1136 1349L1218 1107" stroke-width="2.3" vector-effect="non-scaling-stroke"/>
<path d="M1170 979Q1143 1019 1133 1059L1058 1269Q1040 1319 990 1349L816 1443Q796 1459 798 1474L890 1527L1063 1424" stroke-width="2.3" vector-effect="non-scaling-stroke"/>
<path d="M1033 1319L1110 1371" stroke-width="2.3" vector-effect="non-scaling-stroke"/>
<path d="M990 1349L1063 1404" stroke-width="2.3" vector-effect="non-scaling-stroke"/>
<path d="M890 1527L886 1557" stroke-width="2.3" vector-effect="non-scaling-stroke"/>
<path d="M1532 1108.5L1877 913.5Q1927 890.5 1979 910.5L2012 930.5L2012 1068.5L2089 1118.5L2095 1188.5" stroke-width="2.3" vector-effect="non-scaling-stroke"/>
<path d="M1532 1108.5L1532 1248.5Q1537 1278.5 1567 1293.5L1709 1383.5Q1729 1393.5 1749 1380.5L1892 1302.5" stroke-width="2.3" vector-effect="non-scaling-stroke"/>
<path d="M2037 1220.5L2095 1188.5" stroke-width="2.3" vector-effect="non-scaling-stroke"/>
<path d="M1547 1213.5L1867 1038.5" stroke-width="2.3" vector-effect="non-scaling-stroke"/>
<path d="M1569 1268.5L1927 1080.5Q1957 1073.5 1982 1090.5L2077 1153.5" stroke-width="2.3" vector-effect="non-scaling-stroke"/>
<path d="M1877 916.5L1877 1048.5Q1889 1080.5 1927 1080.5" stroke-width="2.3" vector-effect="non-scaling-stroke"/>
<path d="M1877 1036.5Q1942 1013.5 2012 1053.5" stroke-width="2.3" vector-effect="non-scaling-stroke"/>
<path d="M2092 963.5L2092 1128.5" stroke-width="2.3" vector-effect="non-scaling-stroke"/>
<path d="M2122 980.5L2122 1148.5" stroke-width="2.3" vector-effect="non-scaling-stroke"/>
<path d="M2092 960.5L2327 1098.5" stroke-width="2.3" vector-effect="non-scaling-stroke"/>
<path d="M1517 1123.5Q1472 1163.5 1449 1223.5L1367 1458.5Q1349 1510.5 1305 1536.5L1137 1628.5Q1119 1643.5 1123 1670.5L1127 1700.5L1242 1768.5L1449 1640.5Q1482 1618.5 1495 1558.5L1577 1316.5" stroke-width="2.3" vector-effect="non-scaling-stroke"/>
<path d="M1529 1188.5Q1502 1228.5 1492 1268.5L1417 1478.5Q1399 1528.5 1349 1558.5L1175 1652.5Q1155 1668.5 1157 1683.5L1249 1736.5L1422 1633.5" stroke-width="2.3" vector-effect="non-scaling-stroke"/>
<path d="M1392 1528.5L1469 1580.5" stroke-width="2.3" vector-effect="non-scaling-stroke"/>
<path d="M1349 1558.5L1422 1613.5" stroke-width="2.3" vector-effect="non-scaling-stroke"/>
<path d="M1249 1736.5L1245 1766.5" stroke-width="2.3" vector-effect="non-scaling-stroke"/>
<path d="M1891 1318L2236 1123Q2286 1100 2338 1120L2371 1140L2371 1278L2448 1328L2454 1398" stroke-width="2.3" vector-effect="non-scaling-stroke"/>
<path d="M1891 1318L1891 1458Q1896 1488 1926 1503L2068 1593Q2088 1603 2108 1590L2454 1398" stroke-width="2.3" vector-effect="non-scaling-stroke"/>
<path d="M1906 1423L2226 1248" stroke-width="2.3" vector-effect="non-scaling-stroke"/>
<path d="M1928 1478L2286 1290Q2316 1283 2341 1300L2436 1363" stroke-width="2.3" vector-effect="non-scaling-stroke"/>
<path d="M2236 1126L2236 1258Q2248 1290 2286 1290" stroke-width="2.3" vector-effect="non-scaling-stroke"/>
<path d="M2236 1246Q2301 1223 2371 1263" stroke-width="2.3" vector-effect="non-scaling-stroke"/>
<path d="M1876 1333Q1831 1373 1808 1433L1726 1668Q1708 1720 1664 1746L1496 1838Q1478 1853 1482 1880L1486 1910L1601 1978L1808 1850Q1841 1828 1854 1768L1936 1526" stroke-width="2.3" vector-effect="non-scaling-stroke"/>
<path d="M1888 1398Q1861 1438 1851 1478L1776 1688Q1758 1738 1708 1768L1534 1862Q1514 1878 1516 1893L1608 1946L1781 1843" stroke-width="2.3" vector-effect="non-scaling-stroke"/>
<path d="M1751 1738L1828 1790" stroke-width="2.3" vector-effect="non-scaling-stroke"/>
<path d="M1708 1768L1781 1823" stroke-width="2.3" vector-effect="non-scaling-stroke"/>
<path d="M1608 1946L1604 1976" stroke-width="2.3" vector-effect="non-scaling-stroke"/>
</g>
<g transform="translate(1500 1470) scale(0.141223)">
<path d="M210 385L210 215Q214 150 272 128Q312 118 342 140L520 245L520 278L955 528L962 500L1120 590Q1198 640 1203 725L1205 862" stroke-width="2.3" vector-effect="non-scaling-stroke"/>
<path d="M248 375L248 188Q253 160 284 148" stroke-width="2.3" vector-effect="non-scaling-stroke"/>
<path d="M292 392L1600 1110" stroke-width="2.3" vector-effect="non-scaling-stroke"/>
<path d="M480 478L1190 872" stroke-width="2.3" vector-effect="non-scaling-stroke"/>
<path d="M405 852L340 890Q300 912 258 900Q205 880 195 832L195 722L432 576L548 642L548 772L440 834" stroke-width="2.3" vector-effect="non-scaling-stroke"/>
<path d="M215 792L435 667L435 578" stroke-width="2.3" vector-effect="non-scaling-stroke"/>
<path d="M226 834L440 710L548 772" stroke-width="2.3" vector-effect="non-scaling-stroke"/>
<path d="M435 667L548 732" stroke-width="2.3" vector-effect="non-scaling-stroke"/>
<path d="M205 760L432 632" stroke-width="2.3" vector-effect="non-scaling-stroke"/>
<path d="M626 981L561 1019Q521 1041 479 1029Q426 1009 416 961L416 851L653 705L769 771L769 901L661 963" stroke-width="2.3" vector-effect="non-scaling-stroke"/>
<path d="M436 921L656 796L656 707" stroke-width="2.3" vector-effect="non-scaling-stroke"/>
<path d="M447 963L661 839L769 901" stroke-width="2.3" vector-effect="non-scaling-stroke"/>
<path d="M656 796L769 861" stroke-width="2.3" vector-effect="non-scaling-stroke"/>
<path d="M426 889L653 761" stroke-width="2.3" vector-effect="non-scaling-stroke"/>
<path d="M847 1110L782 1148Q742 1170 700 1158Q647 1138 637 1090L637 980L874 834L990 900L990 1030L882 1092" stroke-width="2.3" vector-effect="non-scaling-stroke"/>
<path d="M657 1050L877 925L877 836" stroke-width="2.3" vector-effect="non-scaling-stroke"/>
<path d="M668 1092L882 968L990 1030" stroke-width="2.3" vector-effect="non-scaling-stroke"/>
<path d="M877 925L990 990" stroke-width="2.3" vector-effect="non-scaling-stroke"/>
<path d="M647 1018L874 890" stroke-width="2.3" vector-effect="non-scaling-stroke"/>
<path d="M1068 1239L1003 1277Q963 1299 921 1287Q868 1267 858 1219L858 1109L1095 963L1211 1029L1211 1159L1103 1221" stroke-width="2.3" vector-effect="non-scaling-stroke"/>
<path d="M878 1179L1098 1054L1098 965" stroke-width="2.3" vector-effect="non-scaling-stroke"/>
<path d="M889 1221L1103 1097L1211 1159" stroke-width="2.3" vector-effect="non-scaling-stroke"/>
<path d="M1098 1054L1211 1119" stroke-width="2.3" vector-effect="non-scaling-stroke"/>
<path d="M868 1147L1095 1019" stroke-width="2.3" vector-effect="non-scaling-stroke"/>
<path d="M1432 1288L1224 1406Q1184 1428 1142 1416Q1089 1396 1079 1348L1079 1238L1316 1092L1432 1158L1432 1288" stroke-width="2.3" vector-effect="non-scaling-stroke"/>
<path d="M1099 1308L1319 1183L1319 1094" stroke-width="2.3" vector-effect="non-scaling-stroke"/>
<path d="M1110 1350L1324 1226L1432 1288" stroke-width="2.3" vector-effect="non-scaling-stroke"/>
<path d="M1319 1183L1432 1248" stroke-width="2.3" vector-effect="non-scaling-stroke"/>
<path d="M1089 1276L1316 1148" stroke-width="2.3" vector-effect="non-scaling-stroke"/>
<path d="M1344 1171L1344 1116Q1349 1071 1394 1064Q1429 1066 1449 1101L1509 1206L1512 1226L1432 1131Q1419 1106 1394 1106Q1366 1114 1374 1156L1374 1171" stroke-width="2.3" vector-effect="non-scaling-stroke" style="fill:#fff"/>
<path d="M1509 1206L1629 1141L1679 1168L1679 1188L1566 1252L1512 1226Z" stroke-width="2.3" vector-effect="non-scaling-stroke" style="fill:#fff"/>
<path d="M1509 1206L1566 1236L1679 1171" stroke-width="2.3" vector-effect="non-scaling-stroke"/>
<path d="M1566 1236L1566 1252" stroke-width="2.3" vector-effect="non-scaling-stroke"/>
<path d="M1123 1042L1123 987Q1128 942 1173 935Q1208 937 1228 972L1288 1077L1291 1097L1211 1002Q1198 977 1173 977Q1145 985 1153 1027L1153 1042" stroke-width="2.3" vector-effect="non-scaling-stroke" style="fill:#fff"/>
<path d="M1288 1077L1408 1012L1458 1039L1458 1059L1345 1123L1291 1097Z" stroke-width="2.3" vector-effect="non-scaling-stroke" style="fill:#fff"/>
<path d="M1288 1077L1345 1107L1458 1042" stroke-width="2.3" vector-effect="non-scaling-stroke"/>
<path d="M1345 1107L1345 1123" stroke-width="2.3" vector-effect="non-scaling-stroke"/>
<path d="M902 913L902 858Q907 813 952 806Q987 808 1007 843L1067 948L1070 968L990 873Q977 848 952 848Q924 856 932 898L932 913" stroke-width="2.3" vector-effect="non-scaling-stroke" style="fill:#fff"/>
<path d="M1067 948L1187 883L1237 910L1237 930L1124 994L1070 968Z" stroke-width="2.3" vector-effect="non-scaling-stroke" style="fill:#fff"/>
<path d="M1067 948L1124 978L1237 913" stroke-width="2.3" vector-effect="non-scaling-stroke"/>
<path d="M1124 978L1124 994" stroke-width="2.3" vector-effect="non-scaling-stroke"/>
<path d="M681 784L681 729Q686 684 731 677Q766 679 786 714L846 819L849 839L769 744Q756 719 731 719Q703 727 711 769L711 784" stroke-width="2.3" vector-effect="non-scaling-stroke" style="fill:#fff"/>
<path d="M846 819L966 754L1016 781L1016 801L903 865L849 839Z" stroke-width="2.3" vector-effect="non-scaling-stroke" style="fill:#fff"/>
<path d="M846 819L903 849L1016 784" stroke-width="2.3" vector-effect="non-scaling-stroke"/>
<path d="M903 849L903 865" stroke-width="2.3" vector-effect="non-scaling-stroke"/>
<path d="M460 655L460 600Q465 555 510 548Q545 550 565 585L625 690L628 710L548 615Q535 590 510 590Q482 598 490 640L490 655" stroke-width="2.3" vector-effect="non-scaling-stroke" style="fill:#fff"/>
<path d="M625 690L745 625L795 652L795 672L682 736L628 710Z" stroke-width="2.3" vector-effect="non-scaling-stroke" style="fill:#fff"/>
<path d="M625 690L682 720L795 655" stroke-width="2.3" vector-effect="non-scaling-stroke"/>
<path d="M682 720L682 736" stroke-width="2.3" vector-effect="non-scaling-stroke"/>
</g>
<g transform="translate(1420 1500) scale(0.119503)">
<path d="M680 520L680 365Q682 350 695 342L920 212Q962 186 1010 213" stroke-width="2.3" vector-effect="non-scaling-stroke"/>
<path d="M690 497L985 328" stroke-width="2.3" vector-effect="non-scaling-stroke"/>
<path d="M700 533L990 368L1172 472" stroke-width="2.3" vector-effect="non-scaling-stroke"/>
<path d="M965 203L965 350" stroke-width="2.3" vector-effect="non-scaling-stroke"/>
<path d="M1012 215L1012 368" stroke-width="2.3" vector-effect="non-scaling-stroke"/>
<path d="M985 328Q1000 325 1012 335" stroke-width="2.3" vector-effect="non-scaling-stroke"/>
</g>
</svg>
</body></html>
